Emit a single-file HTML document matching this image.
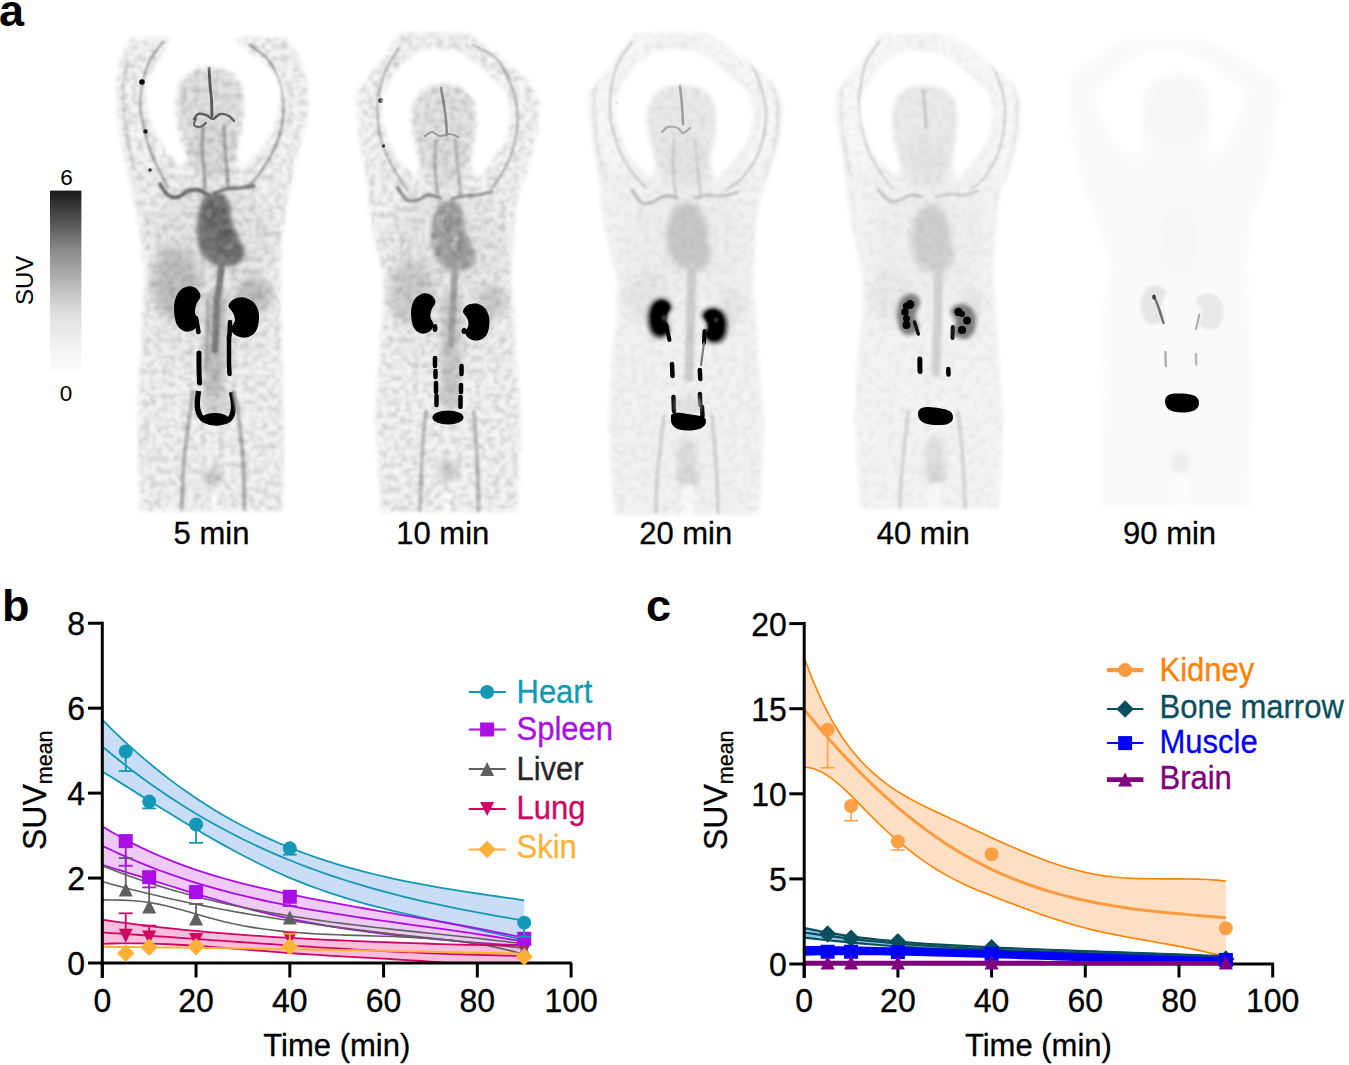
<!DOCTYPE html>
<html><head><meta charset="utf-8"><title>Figure</title>
<style>html,body{margin:0;padding:0;background:#fff;}svg{display:block;}</style></head>
<body><svg width="1349" height="1065" viewBox="0 0 1349 1065" font-family='"Liberation Sans", sans-serif'>
<rect width="1349" height="1065" fill="#fff"/>
<g id="chartb" font-family='"Liberation Sans", sans-serif'>
<path d="M102.30,719.64 L111.68,729.07 L121.05,738.12 L130.43,746.81 L139.80,755.15 L149.18,763.15 L158.56,770.80 L167.93,778.13 L177.31,785.15 L186.68,791.85 L196.06,798.25 L205.44,804.36 L214.81,810.19 L224.19,815.74 L233.56,821.02 L242.94,826.05 L252.32,830.82 L261.69,835.36 L271.07,839.67 L280.44,843.75 L289.82,847.62 L299.20,851.29 L308.57,854.75 L317.95,858.03 L327.32,861.13 L336.70,864.06 L346.08,866.83 L355.45,869.45 L364.83,871.92 L374.20,874.25 L383.58,876.46 L392.96,878.55 L402.33,880.53 L411.71,882.41 L421.08,884.20 L430.46,885.91 L439.84,887.54 L449.21,889.10 L458.59,890.61 L467.96,892.07 L477.34,893.49 L486.72,894.87 L496.09,896.24 L505.47,897.59 L514.84,898.94 L524.22,900.29 L524.22,940.26 L514.84,937.96 L505.47,935.75 L496.09,933.60 L486.72,931.51 L477.34,929.46 L467.96,927.43 L458.59,925.43 L449.21,923.43 L439.84,921.42 L430.46,919.39 L421.08,917.33 L411.71,915.22 L402.33,913.05 L392.96,910.81 L383.58,908.48 L374.20,906.06 L364.83,903.53 L355.45,900.88 L346.08,898.09 L336.70,895.15 L327.32,892.05 L317.95,888.78 L308.57,885.33 L299.20,881.68 L289.82,877.81 L280.44,873.73 L271.07,869.45 L261.69,864.97 L252.32,860.31 L242.94,855.48 L233.56,850.50 L224.19,845.38 L214.81,840.12 L205.44,834.75 L196.06,829.27 L186.68,823.70 L177.31,818.05 L167.93,812.33 L158.56,806.55 L149.18,800.73 L139.80,794.88 L130.43,789.01 L121.05,783.13 L111.68,777.26 L102.30,771.41 Z" fill="#c9ddf6"/>
<path d="M102.30,826.39 L111.68,831.97 L121.05,837.24 L130.43,842.21 L139.80,846.90 L149.18,851.32 L158.56,855.47 L167.93,859.39 L177.31,863.07 L186.68,866.54 L196.06,869.81 L205.44,872.88 L214.81,875.78 L224.19,878.51 L233.56,881.10 L242.94,883.55 L252.32,885.88 L261.69,888.10 L271.07,890.23 L280.44,892.27 L289.82,894.25 L299.20,896.17 L308.57,898.05 L317.95,899.87 L327.32,901.66 L336.70,903.41 L346.08,905.13 L355.45,906.82 L364.83,908.49 L374.20,910.14 L383.58,911.78 L392.96,913.40 L402.33,915.03 L411.71,916.65 L421.08,918.28 L430.46,919.92 L439.84,921.57 L449.21,923.24 L458.59,924.94 L467.96,926.66 L477.34,928.41 L486.72,930.20 L496.09,932.03 L505.47,933.90 L514.84,935.83 L524.22,937.81 L524.22,945.28 L514.84,944.98 L505.47,944.58 L496.09,944.07 L486.72,943.48 L477.34,942.81 L467.96,942.07 L458.59,941.28 L449.21,940.45 L439.84,939.58 L430.46,938.70 L421.08,937.78 L411.71,936.84 L402.33,935.85 L392.96,934.82 L383.58,933.74 L374.20,932.61 L364.83,931.40 L355.45,930.13 L346.08,928.78 L336.70,927.34 L327.32,925.82 L317.95,924.20 L308.57,922.48 L299.20,920.65 L289.82,918.70 L280.44,916.63 L271.07,914.45 L261.69,912.17 L252.32,909.79 L242.94,907.31 L233.56,904.76 L224.19,902.13 L214.81,899.44 L205.44,896.68 L196.06,893.88 L186.68,891.04 L177.31,888.16 L167.93,885.26 L158.56,882.33 L149.18,879.40 L139.80,876.47 L130.43,873.54 L121.05,870.63 L111.68,867.74 L102.30,864.87 Z" fill="#efcaf7"/>
<path d="M102.30,919.75 L111.68,921.11 L121.05,922.42 L130.43,923.66 L139.80,924.86 L149.18,926.00 L158.56,927.09 L167.93,928.13 L177.31,929.12 L186.68,930.07 L196.06,930.97 L205.44,931.83 L214.81,932.65 L224.19,933.43 L233.56,934.17 L242.94,934.87 L252.32,935.54 L261.69,936.18 L271.07,936.78 L280.44,937.36 L289.82,937.91 L299.20,938.43 L308.57,938.92 L317.95,939.39 L327.32,939.84 L336.70,940.27 L346.08,940.68 L355.45,941.07 L364.83,941.45 L374.20,941.81 L383.58,942.16 L392.96,942.50 L402.33,942.84 L411.71,943.16 L421.08,943.47 L430.46,943.77 L439.84,944.05 L449.21,944.31 L458.59,944.55 L467.96,944.76 L477.34,944.94 L486.72,945.09 L496.09,945.20 L505.47,945.28 L514.84,945.31 L524.22,945.30 L524.22,963.00 L514.84,963.00 L505.47,963.00 L496.09,963.00 L486.72,963.00 L477.34,963.00 L467.96,963.00 L458.59,963.00 L449.21,963.00 L439.84,962.34 L430.46,961.65 L421.08,961.01 L411.71,960.39 L402.33,959.81 L392.96,959.25 L383.58,958.70 L374.20,958.18 L364.83,957.65 L355.45,957.13 L346.08,956.61 L336.70,956.08 L327.32,955.54 L317.95,954.97 L308.57,954.38 L299.20,953.76 L289.82,953.11 L280.44,952.42 L271.07,951.69 L261.69,950.94 L252.32,950.18 L242.94,949.42 L233.56,948.66 L224.19,947.91 L214.81,947.19 L205.44,946.50 L196.06,945.86 L186.68,945.26 L177.31,944.73 L167.93,944.27 L158.56,943.88 L149.18,943.59 L139.80,943.40 L130.43,943.31 L121.05,943.34 L111.68,943.49 L102.30,943.78 Z" fill="#fbbddc"/>
<path d="M102.30,719.64 L111.68,729.07 L121.05,738.12 L130.43,746.81 L139.80,755.15 L149.18,763.15 L158.56,770.80 L167.93,778.13 L177.31,785.15 L186.68,791.85 L196.06,798.25 L205.44,804.36 L214.81,810.19 L224.19,815.74 L233.56,821.02 L242.94,826.05 L252.32,830.82 L261.69,835.36 L271.07,839.67 L280.44,843.75 L289.82,847.62 L299.20,851.29 L308.57,854.75 L317.95,858.03 L327.32,861.13 L336.70,864.06 L346.08,866.83 L355.45,869.45 L364.83,871.92 L374.20,874.25 L383.58,876.46 L392.96,878.55 L402.33,880.53 L411.71,882.41 L421.08,884.20 L430.46,885.91 L439.84,887.54 L449.21,889.10 L458.59,890.61 L467.96,892.07 L477.34,893.49 L486.72,894.87 L496.09,896.24 L505.47,897.59 L514.84,898.94 L524.22,900.29" fill="none" stroke="#1399b5" stroke-width="1.8"/>
<path d="M102.30,771.41 L111.68,777.26 L121.05,783.13 L130.43,789.01 L139.80,794.88 L149.18,800.73 L158.56,806.55 L167.93,812.33 L177.31,818.05 L186.68,823.70 L196.06,829.27 L205.44,834.75 L214.81,840.12 L224.19,845.38 L233.56,850.50 L242.94,855.48 L252.32,860.31 L261.69,864.97 L271.07,869.45 L280.44,873.73 L289.82,877.81 L299.20,881.68 L308.57,885.33 L317.95,888.78 L327.32,892.05 L336.70,895.15 L346.08,898.09 L355.45,900.88 L364.83,903.53 L374.20,906.06 L383.58,908.48 L392.96,910.81 L402.33,913.05 L411.71,915.22 L421.08,917.33 L430.46,919.39 L439.84,921.42 L449.21,923.43 L458.59,925.43 L467.96,927.43 L477.34,929.46 L486.72,931.51 L496.09,933.60 L505.47,935.75 L514.84,937.96 L524.22,940.26" fill="none" stroke="#1399b5" stroke-width="1.8"/>
<path d="M102.30,746.49 L111.68,754.28 L121.05,761.82 L130.43,769.12 L139.80,776.17 L149.18,782.98 L158.56,789.56 L167.93,795.92 L177.31,802.05 L186.68,807.97 L196.06,813.67 L205.44,819.17 L214.81,824.47 L224.19,829.58 L233.56,834.49 L242.94,839.22 L252.32,843.77 L261.69,848.14 L271.07,852.34 L280.44,856.38 L289.82,860.26 L299.20,863.99 L308.57,867.56 L317.95,871.00 L327.32,874.29 L336.70,877.45 L346.08,880.49 L355.45,883.40 L364.83,886.19 L374.20,888.87 L383.58,891.44 L392.96,893.91 L402.33,896.28 L411.71,898.56 L421.08,900.76 L430.46,902.87 L439.84,904.91 L449.21,906.87 L458.59,908.77 L467.96,910.61 L477.34,912.39 L486.72,914.12 L496.09,915.81 L505.47,917.46 L514.84,919.07 L524.22,920.65" fill="none" stroke="#1399b5" stroke-width="1.8"/>
<path d="M102.30,826.39 L111.68,831.97 L121.05,837.24 L130.43,842.21 L139.80,846.90 L149.18,851.32 L158.56,855.47 L167.93,859.39 L177.31,863.07 L186.68,866.54 L196.06,869.81 L205.44,872.88 L214.81,875.78 L224.19,878.51 L233.56,881.10 L242.94,883.55 L252.32,885.88 L261.69,888.10 L271.07,890.23 L280.44,892.27 L289.82,894.25 L299.20,896.17 L308.57,898.05 L317.95,899.87 L327.32,901.66 L336.70,903.41 L346.08,905.13 L355.45,906.82 L364.83,908.49 L374.20,910.14 L383.58,911.78 L392.96,913.40 L402.33,915.03 L411.71,916.65 L421.08,918.28 L430.46,919.92 L439.84,921.57 L449.21,923.24 L458.59,924.94 L467.96,926.66 L477.34,928.41 L486.72,930.20 L496.09,932.03 L505.47,933.90 L514.84,935.83 L524.22,937.81" fill="none" stroke="#aa0de6" stroke-width="1.8"/>
<path d="M102.30,864.87 L111.68,867.74 L121.05,870.63 L130.43,873.54 L139.80,876.47 L149.18,879.40 L158.56,882.33 L167.93,885.26 L177.31,888.16 L186.68,891.04 L196.06,893.88 L205.44,896.68 L214.81,899.44 L224.19,902.13 L233.56,904.76 L242.94,907.31 L252.32,909.79 L261.69,912.17 L271.07,914.45 L280.44,916.63 L289.82,918.70 L299.20,920.65 L308.57,922.48 L317.95,924.20 L327.32,925.82 L336.70,927.34 L346.08,928.78 L355.45,930.13 L364.83,931.40 L374.20,932.61 L383.58,933.74 L392.96,934.82 L402.33,935.85 L411.71,936.84 L421.08,937.78 L430.46,938.70 L439.84,939.58 L449.21,940.45 L458.59,941.28 L467.96,942.07 L477.34,942.81 L486.72,943.48 L496.09,944.07 L505.47,944.58 L514.84,944.98 L524.22,945.28" fill="none" stroke="#aa0de6" stroke-width="1.8"/>
<path d="M102.30,845.82 L111.68,850.31 L121.05,854.61 L130.43,858.72 L139.80,862.65 L149.18,866.41 L158.56,870.00 L167.93,873.42 L177.31,876.69 L186.68,879.80 L196.06,882.77 L205.44,885.60 L214.81,888.30 L224.19,890.87 L233.56,893.32 L242.94,895.66 L252.32,897.88 L261.69,900.00 L271.07,902.03 L280.44,903.96 L289.82,905.81 L299.20,907.58 L308.57,909.27 L317.95,910.90 L327.32,912.46 L336.70,913.98 L346.08,915.44 L355.45,916.86 L364.83,918.24 L374.20,919.59 L383.58,920.91 L392.96,922.21 L402.33,923.51 L411.71,924.79 L421.08,926.07 L430.46,927.36 L439.84,928.66 L449.21,929.97 L458.59,931.31 L467.96,932.67 L477.34,934.07 L486.72,935.51 L496.09,937.00 L505.47,938.53 L514.84,940.13 L524.22,941.79" fill="none" stroke="#aa0de6" stroke-width="1.8"/>
<path d="M102.30,865.67 L111.68,869.42 L121.05,873.01 L130.43,876.44 L139.80,879.73 L149.18,882.87 L158.56,885.88 L167.93,888.75 L177.31,891.49 L186.68,894.10 L196.06,896.60 L205.44,898.98 L214.81,901.25 L224.19,903.41 L233.56,905.46 L242.94,907.43 L252.32,909.29 L261.69,911.07 L271.07,912.77 L280.44,914.39 L289.82,915.93 L299.20,917.40 L308.57,918.81 L317.95,920.16 L327.32,921.45 L336.70,922.69 L346.08,923.89 L355.45,925.04 L364.83,926.16 L374.20,927.24 L383.58,928.30 L392.96,929.33 L402.33,930.34 L411.71,931.34 L421.08,932.33 L430.46,933.31 L439.84,934.29 L449.21,935.28 L458.59,936.28 L467.96,937.29 L477.34,938.32 L486.72,939.37 L496.09,940.45 L505.47,941.56 L514.84,942.71 L524.22,943.90" fill="none" stroke="#606060" stroke-width="1.6"/>
<path d="M102.30,899.89 L111.68,899.95 L121.05,900.14 L130.43,900.55 L139.80,901.30 L149.18,902.47 L158.56,904.15 L167.93,906.24 L177.31,908.65 L186.68,911.27 L196.06,914.00 L205.44,916.71 L214.81,919.32 L224.19,921.70 L233.56,923.83 L242.94,925.71 L252.32,927.36 L261.69,928.80 L271.07,930.04 L280.44,931.11 L289.82,932.01 L299.20,932.78 L308.57,933.42 L317.95,933.96 L327.32,934.41 L336.70,934.78 L346.08,935.11 L355.45,935.39 L364.83,935.66 L374.20,935.93 L383.58,936.22 L392.96,936.54 L402.33,936.91 L411.71,937.35 L421.08,937.88 L430.46,938.52 L439.84,939.27 L449.21,940.17 L458.59,941.23 L467.96,942.46 L477.34,943.88 L486.72,945.51 L496.09,947.37 L505.47,949.48 L514.84,951.85 L524.22,954.50" fill="none" stroke="#606060" stroke-width="1.6"/>
<path d="M102.30,881.54 L111.68,884.16 L121.05,886.70 L130.43,889.15 L139.80,891.52 L149.18,893.82 L158.56,896.05 L167.93,898.20 L177.31,900.28 L186.68,902.30 L196.06,904.25 L205.44,906.13 L214.81,907.96 L224.19,909.72 L233.56,911.43 L242.94,913.09 L252.32,914.69 L261.69,916.24 L271.07,917.75 L280.44,919.20 L289.82,920.62 L299.20,921.99 L308.57,923.33 L317.95,924.62 L327.32,925.88 L336.70,927.11 L346.08,928.31 L355.45,929.48 L364.83,930.62 L374.20,931.74 L383.58,932.84 L392.96,933.92 L402.33,934.97 L411.71,936.02 L421.08,937.05 L430.46,938.07 L439.84,939.08 L449.21,940.08 L458.59,941.08 L467.96,942.08 L477.34,943.08 L486.72,944.08 L496.09,945.08 L505.47,946.09 L514.84,947.11 L524.22,948.14" fill="none" stroke="#606060" stroke-width="1.6"/>
<path d="M102.30,919.75 L111.68,921.11 L121.05,922.42 L130.43,923.66 L139.80,924.86 L149.18,926.00 L158.56,927.09 L167.93,928.13 L177.31,929.12 L186.68,930.07 L196.06,930.97 L205.44,931.83 L214.81,932.65 L224.19,933.43 L233.56,934.17 L242.94,934.87 L252.32,935.54 L261.69,936.18 L271.07,936.78 L280.44,937.36 L289.82,937.91 L299.20,938.43 L308.57,938.92 L317.95,939.39 L327.32,939.84 L336.70,940.27 L346.08,940.68 L355.45,941.07 L364.83,941.45 L374.20,941.81 L383.58,942.16 L392.96,942.50 L402.33,942.84 L411.71,943.16 L421.08,943.47 L430.46,943.77 L439.84,944.05 L449.21,944.31 L458.59,944.55 L467.96,944.76 L477.34,944.94 L486.72,945.09 L496.09,945.20 L505.47,945.28 L514.84,945.31 L524.22,945.30" fill="none" stroke="#cf0463" stroke-width="1.8"/>
<path d="M102.30,943.78 L111.68,943.49 L121.05,943.34 L130.43,943.31 L139.80,943.40 L149.18,943.59 L158.56,943.88 L167.93,944.27 L177.31,944.73 L186.68,945.26 L196.06,945.86 L205.44,946.50 L214.81,947.19 L224.19,947.91 L233.56,948.66 L242.94,949.42 L252.32,950.18 L261.69,950.94 L271.07,951.69 L280.44,952.42 L289.82,953.11 L299.20,953.76 L308.57,954.38 L317.95,954.97 L327.32,955.54 L336.70,956.08 L346.08,956.61 L355.45,957.13 L364.83,957.65 L374.20,958.18 L383.58,958.70 L392.96,959.25 L402.33,959.81 L411.71,960.39 L421.08,961.01 L430.46,961.65 L439.84,962.34 L449.21,963.00 L458.59,963.00 L467.96,963.00 L477.34,963.00 L486.72,963.00 L496.09,963.00 L505.47,963.00 L514.84,963.00 L524.22,963.00" fill="none" stroke="#cf0463" stroke-width="1.8"/>
<path d="M102.30,932.41 L111.68,933.04 L121.05,933.68 L130.43,934.33 L139.80,934.98 L149.18,935.63 L158.56,936.29 L167.93,936.95 L177.31,937.62 L186.68,938.28 L196.06,938.95 L205.44,939.62 L214.81,940.28 L224.19,940.95 L233.56,941.61 L242.94,942.26 L252.32,942.91 L261.69,943.56 L271.07,944.20 L280.44,944.83 L289.82,945.46 L299.20,946.07 L308.57,946.68 L317.95,947.28 L327.32,947.86 L336.70,948.43 L346.08,948.99 L355.45,949.54 L364.83,950.07 L374.20,950.58 L383.58,951.08 L392.96,951.56 L402.33,952.02 L411.71,952.47 L421.08,952.89 L430.46,953.29 L439.84,953.67 L449.21,954.03 L458.59,954.37 L467.96,954.68 L477.34,954.96 L486.72,955.22 L496.09,955.46 L505.47,955.66 L514.84,955.84 L524.22,955.99" fill="none" stroke="#cf0463" stroke-width="1.8"/>
<path d="M102.30,946.86 L111.68,946.94 L121.05,947.02 L130.43,947.10 L139.80,947.19 L149.18,947.28 L158.56,947.38 L167.93,947.49 L177.31,947.60 L186.68,947.71 L196.06,947.83 L205.44,947.95 L214.81,948.07 L224.19,948.20 L233.56,948.33 L242.94,948.47 L252.32,948.61 L261.69,948.75 L271.07,948.90 L280.44,949.05 L289.82,949.20 L299.20,949.36 L308.57,949.51 L317.95,949.67 L327.32,949.84 L336.70,950.00 L346.08,950.17 L355.45,950.34 L364.83,950.52 L374.20,950.69 L383.58,950.87 L392.96,951.04 L402.33,951.22 L411.71,951.41 L421.08,951.59 L430.46,951.77 L439.84,951.96 L449.21,952.14 L458.59,952.33 L467.96,952.52 L477.34,952.71 L486.72,952.90 L496.09,953.09 L505.47,953.28 L514.84,953.47 L524.22,953.66" fill="none" stroke="#fdb237" stroke-width="2"/>
<line x1="102.3" y1="621.7" x2="102.3" y2="978" stroke="#000" stroke-width="3"/>
<line x1="100.8" y1="963.0" x2="571.7" y2="963.0" stroke="#000" stroke-width="3"/>
<line x1="88" y1="963.00" x2="102.3" y2="963.00" stroke="#000" stroke-width="3"/>
<text transform="translate(85.00,975.00) scale(1,1.06)" font-size="32" text-anchor="end" fill="#000" stroke="#000" stroke-width="0.3">0</text>
<line x1="88" y1="878.06" x2="102.3" y2="878.06" stroke="#000" stroke-width="3"/>
<text transform="translate(85.00,890.06) scale(1,1.06)" font-size="32" text-anchor="end" fill="#000" stroke="#000" stroke-width="0.3">2</text>
<line x1="88" y1="793.12" x2="102.3" y2="793.12" stroke="#000" stroke-width="3"/>
<text transform="translate(85.00,805.12) scale(1,1.06)" font-size="32" text-anchor="end" fill="#000" stroke="#000" stroke-width="0.3">4</text>
<line x1="88" y1="708.18" x2="102.3" y2="708.18" stroke="#000" stroke-width="3"/>
<text transform="translate(85.00,720.18) scale(1,1.06)" font-size="32" text-anchor="end" fill="#000" stroke="#000" stroke-width="0.3">6</text>
<line x1="88" y1="623.24" x2="102.3" y2="623.24" stroke="#000" stroke-width="3"/>
<text transform="translate(85.00,635.24) scale(1,1.06)" font-size="32" text-anchor="end" fill="#000" stroke="#000" stroke-width="0.3">8</text>
<line x1="102.30" y1="963.0" x2="102.30" y2="977.5" stroke="#000" stroke-width="3"/>
<text transform="translate(102.30,1011.80) scale(1,1.06)" font-size="32" text-anchor="middle" fill="#000" stroke="#000" stroke-width="0.3">0</text>
<line x1="196.06" y1="963.0" x2="196.06" y2="977.5" stroke="#000" stroke-width="3"/>
<text transform="translate(196.06,1011.80) scale(1,1.06)" font-size="32" text-anchor="middle" fill="#000" stroke="#000" stroke-width="0.3">20</text>
<line x1="289.82" y1="963.0" x2="289.82" y2="977.5" stroke="#000" stroke-width="3"/>
<text transform="translate(289.82,1011.80) scale(1,1.06)" font-size="32" text-anchor="middle" fill="#000" stroke="#000" stroke-width="0.3">40</text>
<line x1="383.58" y1="963.0" x2="383.58" y2="977.5" stroke="#000" stroke-width="3"/>
<text transform="translate(383.58,1011.80) scale(1,1.06)" font-size="32" text-anchor="middle" fill="#000" stroke="#000" stroke-width="0.3">60</text>
<line x1="477.34" y1="963.0" x2="477.34" y2="977.5" stroke="#000" stroke-width="3"/>
<text transform="translate(477.34,1011.80) scale(1,1.06)" font-size="32" text-anchor="middle" fill="#000" stroke="#000" stroke-width="0.3">80</text>
<line x1="571.10" y1="963.0" x2="571.10" y2="977.5" stroke="#000" stroke-width="3"/>
<text transform="translate(571.10,1011.80) scale(1,1.06)" font-size="32" text-anchor="middle" fill="#000" stroke="#000" stroke-width="0.3">100</text>
<text transform="translate(336.80,1056.00) scale(1,1.0)" font-size="31" text-anchor="middle" fill="#000" stroke="#000" stroke-width="0.3">Time (min)</text>
<text transform="translate(45.5,850) rotate(-90) scale(1,1.06)" font-size="32" stroke="#000" stroke-width="0.3">SUV<tspan font-size="21.5" dy="6" dx="0">mean</tspan></text>
<line x1="125.74" y1="935.82" x2="125.74" y2="913.31" stroke="#cf0463" stroke-width="1.8"/><line x1="118.74" y1="913.31" x2="132.74" y2="913.31" stroke="#cf0463" stroke-width="1.8"/>
<path d="M118.74,928.82 L132.74,928.82 L125.74,942.82 Z" fill="#cf0463"/>
<line x1="149.18" y1="937.52" x2="149.18" y2="925.63" stroke="#cf0463" stroke-width="1.8"/><line x1="142.18" y1="925.63" x2="156.18" y2="925.63" stroke="#cf0463" stroke-width="1.8"/>
<path d="M142.18,930.52 L156.18,930.52 L149.18,944.52 Z" fill="#cf0463"/>
<path d="M189.06,933.07 L203.06,933.07 L196.06,947.07 Z" fill="#cf0463"/>
<path d="M282.82,931.79 L296.82,931.79 L289.82,945.79 Z" fill="#cf0463"/>
<path d="M517.22,942.41 L531.22,942.41 L524.22,956.41 Z" fill="#cf0463"/>
<line x1="125.74" y1="889.53" x2="125.74" y2="858.10" stroke="#606060" stroke-width="1.8"/><line x1="118.74" y1="858.10" x2="132.74" y2="858.10" stroke="#606060" stroke-width="1.8"/>
<path d="M125.74,882.53 L132.74,896.53 L118.74,896.53 Z" fill="#606060"/>
<line x1="149.18" y1="906.51" x2="149.18" y2="878.06" stroke="#606060" stroke-width="1.8"/><line x1="142.18" y1="878.06" x2="156.18" y2="878.06" stroke="#606060" stroke-width="1.8"/>
<path d="M149.18,899.51 L156.18,913.51 L142.18,913.51 Z" fill="#606060"/>
<line x1="196.06" y1="918.41" x2="196.06" y2="903.97" stroke="#606060" stroke-width="1.8"/><line x1="189.06" y1="903.97" x2="203.06" y2="903.97" stroke="#606060" stroke-width="1.8"/>
<path d="M196.06,911.41 L203.06,925.41 L189.06,925.41 Z" fill="#606060"/>
<path d="M289.82,910.56 L296.82,924.56 L282.82,924.56 Z" fill="#606060"/>
<path d="M524.22,943.26 L531.22,957.26 L517.22,957.26 Z" fill="#606060"/>
<path d="M125.74,944.48 L134.49,953.23 L125.74,961.98 L116.99,953.23 Z" fill="#fdb237"/>
<path d="M149.18,938.54 L157.93,947.29 L149.18,956.04 L140.43,947.29 Z" fill="#fdb237"/>
<path d="M196.06,938.11 L204.81,946.86 L196.06,955.61 L187.31,946.86 Z" fill="#fdb237"/>
<line x1="289.82" y1="946.86" x2="289.82" y2="933.70" stroke="#fdb237" stroke-width="1.8"/><line x1="282.82" y1="933.70" x2="296.82" y2="933.70" stroke="#fdb237" stroke-width="1.8"/>
<path d="M289.82,938.11 L298.57,946.86 L289.82,955.61 L281.07,946.86 Z" fill="#fdb237"/>
<path d="M524.22,947.88 L532.97,956.63 L524.22,965.38 L515.47,956.63 Z" fill="#fdb237"/>
<line x1="125.74" y1="841.11" x2="125.74" y2="865.74" stroke="#aa0de6" stroke-width="1.8"/><line x1="118.74" y1="865.74" x2="132.74" y2="865.74" stroke="#aa0de6" stroke-width="1.8"/>
<rect x="118.74" y="834.11" width="14.00" height="14.00" fill="#aa0de6"/>
<line x1="149.18" y1="877.21" x2="149.18" y2="887.40" stroke="#aa0de6" stroke-width="1.8"/><line x1="142.18" y1="887.40" x2="156.18" y2="887.40" stroke="#aa0de6" stroke-width="1.8"/>
<rect x="142.18" y="870.21" width="14.00" height="14.00" fill="#aa0de6"/>
<rect x="189.06" y="885.08" width="14.00" height="14.00" fill="#aa0de6"/>
<line x1="289.82" y1="896.75" x2="289.82" y2="906.09" stroke="#aa0de6" stroke-width="1.8"/><line x1="282.82" y1="906.09" x2="296.82" y2="906.09" stroke="#aa0de6" stroke-width="1.8"/>
<rect x="282.82" y="889.75" width="14.00" height="14.00" fill="#aa0de6"/>
<rect x="517.22" y="931.79" width="14.00" height="14.00" fill="#aa0de6"/>
<line x1="125.74" y1="751.50" x2="125.74" y2="771.04" stroke="#1399b5" stroke-width="1.8"/><line x1="118.74" y1="771.04" x2="132.74" y2="771.04" stroke="#1399b5" stroke-width="1.8"/>
<circle cx="125.74" cy="751.50" r="7.00" fill="#1399b5"/>
<line x1="149.18" y1="801.61" x2="149.18" y2="808.41" stroke="#1399b5" stroke-width="1.8"/><line x1="142.18" y1="808.41" x2="156.18" y2="808.41" stroke="#1399b5" stroke-width="1.8"/>
<circle cx="149.18" cy="801.61" r="7.00" fill="#1399b5"/>
<line x1="196.06" y1="824.55" x2="196.06" y2="842.81" stroke="#1399b5" stroke-width="1.8"/><line x1="189.06" y1="842.81" x2="203.06" y2="842.81" stroke="#1399b5" stroke-width="1.8"/>
<circle cx="196.06" cy="824.55" r="7.00" fill="#1399b5"/>
<line x1="289.82" y1="848.33" x2="289.82" y2="854.70" stroke="#1399b5" stroke-width="1.8"/><line x1="282.82" y1="854.70" x2="296.82" y2="854.70" stroke="#1399b5" stroke-width="1.8"/>
<circle cx="289.82" cy="848.33" r="7.00" fill="#1399b5"/>
<line x1="524.22" y1="922.65" x2="524.22" y2="936.67" stroke="#1399b5" stroke-width="1.8"/><line x1="517.22" y1="936.67" x2="531.22" y2="936.67" stroke="#1399b5" stroke-width="1.8"/>
<circle cx="524.22" cy="922.65" r="7.00" fill="#1399b5"/>
<line x1="468.8" y1="692" x2="505.9" y2="692" stroke="#1399b5" stroke-width="2"/>
<circle cx="487.10" cy="692.00" r="7.00" fill="#1399b5"/>
<text transform="translate(516.50,702.90) scale(1,1.06)" font-size="31" text-anchor="start" fill="#1399b5" stroke="#1399b5" stroke-width="0.3">Heart</text>
<line x1="468.8" y1="729.5" x2="505.9" y2="729.5" stroke="#aa0de6" stroke-width="2"/>
<rect x="480.10" y="722.50" width="14.00" height="14.00" fill="#aa0de6"/>
<text transform="translate(516.50,740.30) scale(1,1.06)" font-size="31" text-anchor="start" fill="#aa0de6" stroke="#aa0de6" stroke-width="0.3">Spleen</text>
<line x1="468.8" y1="769" x2="505.9" y2="769" stroke="#606060" stroke-width="2"/>
<path d="M487.10,762.00 L494.10,776.00 L480.10,776.00 Z" fill="#606060"/>
<text transform="translate(516.50,779.80) scale(1,1.06)" font-size="31" text-anchor="start" fill="#262626" stroke="#262626" stroke-width="0.3">Liver</text>
<line x1="468.8" y1="809" x2="505.9" y2="809" stroke="#cf0463" stroke-width="2"/>
<path d="M480.10,802.00 L494.10,802.00 L487.10,816.00 Z" fill="#cf0463"/>
<text transform="translate(516.50,818.80) scale(1,1.06)" font-size="31" text-anchor="start" fill="#cf0463" stroke="#cf0463" stroke-width="0.3">Lung</text>
<line x1="468.8" y1="849.5" x2="505.9" y2="849.5" stroke="#fdb237" stroke-width="2"/>
<path d="M487.10,840.75 L495.85,849.50 L487.10,858.25 L478.35,849.50 Z" fill="#fdb237"/>
<text transform="translate(516.50,857.90) scale(1,1.06)" font-size="31" text-anchor="start" fill="#fdb237" stroke="#fdb237" stroke-width="0.3">Skin</text>
</g>
<g id="chartc" font-family='"Liberation Sans", sans-serif'>
<path d="M804.20,657.69 L813.57,682.18 L822.94,703.24 L832.31,721.23 L841.68,736.53 L851.05,749.51 L860.42,760.52 L869.79,769.94 L879.16,778.12 L888.53,785.31 L897.90,791.64 L907.27,797.28 L916.64,802.36 L926.01,807.03 L935.38,811.45 L944.75,815.77 L954.12,820.11 L963.49,824.50 L972.86,828.91 L982.23,833.31 L991.60,837.66 L1000.97,841.95 L1010.34,846.13 L1019.71,850.19 L1029.08,854.08 L1038.45,857.78 L1047.82,861.26 L1057.19,864.49 L1066.56,867.44 L1075.93,870.08 L1085.30,872.39 L1094.67,874.32 L1104.04,875.85 L1113.41,876.99 L1122.78,877.80 L1132.15,878.34 L1141.52,878.66 L1150.89,878.81 L1160.26,878.86 L1169.63,878.86 L1179.00,878.88 L1188.37,878.96 L1197.74,879.16 L1207.11,879.55 L1216.48,880.17 L1225.85,881.10 L1225.85,956.88 L1216.48,954.45 L1207.11,952.21 L1197.74,950.14 L1188.37,948.21 L1179.00,946.39 L1169.63,944.66 L1160.26,942.97 L1150.89,941.32 L1141.52,939.66 L1132.15,937.97 L1122.78,936.22 L1113.41,934.39 L1104.04,932.44 L1094.67,930.35 L1085.30,928.07 L1075.93,925.55 L1066.56,922.80 L1057.19,919.86 L1047.82,916.74 L1038.45,913.47 L1029.08,910.08 L1019.71,906.60 L1010.34,903.05 L1000.97,899.45 L991.60,895.82 L982.23,892.10 L972.86,888.18 L963.49,883.98 L954.12,879.40 L944.75,874.34 L935.38,868.74 L926.01,862.60 L916.64,855.93 L907.27,848.72 L897.90,840.99 L888.53,832.74 L879.16,823.99 L869.79,814.73 L860.42,805.15 L851.05,795.67 L841.68,786.75 L832.31,778.89 L822.94,772.63 L813.57,768.50 L804.20,767.04 Z" fill="#fde0c3"/>
<path d="M804.20,657.69 L813.57,682.18 L822.94,703.24 L832.31,721.23 L841.68,736.53 L851.05,749.51 L860.42,760.52 L869.79,769.94 L879.16,778.12 L888.53,785.31 L897.90,791.64 L907.27,797.28 L916.64,802.36 L926.01,807.03 L935.38,811.45 L944.75,815.77 L954.12,820.11 L963.49,824.50 L972.86,828.91 L982.23,833.31 L991.60,837.66 L1000.97,841.95 L1010.34,846.13 L1019.71,850.19 L1029.08,854.08 L1038.45,857.78 L1047.82,861.26 L1057.19,864.49 L1066.56,867.44 L1075.93,870.08 L1085.30,872.39 L1094.67,874.32 L1104.04,875.85 L1113.41,876.99 L1122.78,877.80 L1132.15,878.34 L1141.52,878.66 L1150.89,878.81 L1160.26,878.86 L1169.63,878.86 L1179.00,878.88 L1188.37,878.96 L1197.74,879.16 L1207.11,879.55 L1216.48,880.17 L1225.85,881.10" fill="none" stroke="#ff8000" stroke-width="1.6"/>
<path d="M804.20,767.04 L813.57,768.50 L822.94,772.63 L832.31,778.89 L841.68,786.75 L851.05,795.67 L860.42,805.15 L869.79,814.73 L879.16,823.99 L888.53,832.74 L897.90,840.99 L907.27,848.72 L916.64,855.93 L926.01,862.60 L935.38,868.74 L944.75,874.34 L954.12,879.40 L963.49,883.98 L972.86,888.18 L982.23,892.10 L991.60,895.82 L1000.97,899.45 L1010.34,903.05 L1019.71,906.60 L1029.08,910.08 L1038.45,913.47 L1047.82,916.74 L1057.19,919.86 L1066.56,922.80 L1075.93,925.55 L1085.30,928.07 L1094.67,930.35 L1104.04,932.44 L1113.41,934.39 L1122.78,936.22 L1132.15,937.97 L1141.52,939.66 L1150.89,941.32 L1160.26,942.97 L1169.63,944.66 L1179.00,946.39 L1188.37,948.21 L1197.74,950.14 L1207.11,952.21 L1216.48,954.45 L1225.85,956.88" fill="none" stroke="#ff8000" stroke-width="1.6"/>
<path d="M804.20,709.64 L813.57,721.05 L822.94,732.10 L832.31,742.80 L841.68,753.14 L851.05,763.11 L860.42,772.73 L869.79,781.98 L879.16,790.87 L888.53,799.40 L897.90,807.57 L907.27,815.37 L916.64,822.80 L926.01,829.87 L935.38,836.57 L944.75,842.90 L954.12,848.87 L963.49,854.48 L972.86,859.74 L982.23,864.67 L991.60,869.28 L1000.97,873.59 L1010.34,877.59 L1019.71,881.32 L1029.08,884.78 L1038.45,887.98 L1047.82,890.93 L1057.19,893.66 L1066.56,896.16 L1075.93,898.46 L1085.30,900.57 L1094.67,902.50 L1104.04,904.26 L1113.41,905.86 L1122.78,907.32 L1132.15,908.65 L1141.52,909.87 L1150.89,910.98 L1160.26,912.00 L1169.63,912.94 L1179.00,913.81 L1188.37,914.63 L1197.74,915.41 L1207.11,916.16 L1216.48,916.90 L1225.85,917.63" fill="none" stroke="#fd9a3e" stroke-width="3"/>
<line x1="802.7" y1="964.0" x2="1274" y2="964.0" stroke="#000" stroke-width="3"/>
<path d="M804.20,927.98 L813.57,929.93 L822.94,931.72 L832.31,933.37 L841.68,934.88 L851.05,936.26 L860.42,937.53 L869.79,938.68 L879.16,939.73 L888.53,940.69 L897.90,941.56 L907.27,942.35 L916.64,943.08 L926.01,943.74 L935.38,944.35 L944.75,944.92 L954.12,945.46 L963.49,945.96 L972.86,946.45 L982.23,946.91 L991.60,947.36 L1000.97,947.79 L1010.34,948.21 L1019.71,948.61 L1029.08,949.00 L1038.45,949.37 L1047.82,949.74 L1057.19,950.09 L1066.56,950.44 L1075.93,950.78 L1085.30,951.12 L1094.67,951.45 L1104.04,951.78 L1113.41,952.10 L1122.78,952.43 L1132.15,952.76 L1141.52,953.09 L1150.89,953.42 L1160.26,953.76 L1169.63,954.10 L1179.00,954.45 L1188.37,954.81 L1197.74,955.18 L1207.11,955.57 L1216.48,955.96 L1225.85,956.37 L1225.85,958.87 L1216.48,958.46 L1207.11,958.08 L1197.74,957.72 L1188.37,957.38 L1179.00,957.05 L1169.63,956.74 L1160.26,956.45 L1150.89,956.16 L1141.52,955.89 L1132.15,955.62 L1122.78,955.36 L1113.41,955.11 L1104.04,954.86 L1094.67,954.61 L1085.30,954.36 L1075.93,954.11 L1066.56,953.85 L1057.19,953.59 L1047.82,953.32 L1038.45,953.04 L1029.08,952.74 L1019.71,952.44 L1010.34,952.12 L1000.97,951.78 L991.60,951.42 L982.23,951.04 L972.86,950.65 L963.49,950.22 L954.12,949.77 L944.75,949.29 L935.38,948.79 L926.01,948.25 L916.64,947.68 L907.27,947.07 L897.90,946.42 L888.53,945.74 L879.16,945.02 L869.79,944.25 L860.42,943.44 L851.05,942.59 L841.68,941.68 L832.31,940.73 L822.94,939.73 L813.57,938.67 L804.20,937.56 Z" fill="#8fc3e0"/>
<path d="M804.20,927.98 L813.57,929.93 L822.94,931.72 L832.31,933.37 L841.68,934.88 L851.05,936.26 L860.42,937.53 L869.79,938.68 L879.16,939.73 L888.53,940.69 L897.90,941.56 L907.27,942.35 L916.64,943.08 L926.01,943.74 L935.38,944.35 L944.75,944.92 L954.12,945.46 L963.49,945.96 L972.86,946.45 L982.23,946.91 L991.60,947.36 L1000.97,947.79 L1010.34,948.21 L1019.71,948.61 L1029.08,949.00 L1038.45,949.37 L1047.82,949.74 L1057.19,950.09 L1066.56,950.44 L1075.93,950.78 L1085.30,951.12 L1094.67,951.45 L1104.04,951.78 L1113.41,952.10 L1122.78,952.43 L1132.15,952.76 L1141.52,953.09 L1150.89,953.42 L1160.26,953.76 L1169.63,954.10 L1179.00,954.45 L1188.37,954.81 L1197.74,955.18 L1207.11,955.57 L1216.48,955.96 L1225.85,956.37" fill="none" stroke="#0b4f5f" stroke-width="2.2"/>
<path d="M804.20,937.56 L813.57,938.67 L822.94,939.73 L832.31,940.73 L841.68,941.68 L851.05,942.59 L860.42,943.44 L869.79,944.25 L879.16,945.02 L888.53,945.74 L897.90,946.42 L907.27,947.07 L916.64,947.68 L926.01,948.25 L935.38,948.79 L944.75,949.29 L954.12,949.77 L963.49,950.22 L972.86,950.65 L982.23,951.04 L991.60,951.42 L1000.97,951.78 L1010.34,952.12 L1019.71,952.44 L1029.08,952.74 L1038.45,953.04 L1047.82,953.32 L1057.19,953.59 L1066.56,953.85 L1075.93,954.11 L1085.30,954.36 L1094.67,954.61 L1104.04,954.86 L1113.41,955.11 L1122.78,955.36 L1132.15,955.62 L1141.52,955.89 L1150.89,956.16 L1160.26,956.45 L1169.63,956.74 L1179.00,957.05 L1188.37,957.38 L1197.74,957.72 L1207.11,958.08 L1216.48,958.46 L1225.85,958.87" fill="none" stroke="#0b4f5f" stroke-width="2.2"/>
<path d="M804.20,932.53 L813.57,933.91 L822.94,935.22 L832.31,936.46 L841.68,937.64 L851.05,938.76 L860.42,939.82 L869.79,940.81 L879.16,941.76 L888.53,942.65 L897.90,943.49 L907.27,944.28 L916.64,945.02 L926.01,945.72 L935.38,946.37 L944.75,946.99 L954.12,947.57 L963.49,948.11 L972.86,948.62 L982.23,949.10 L991.60,949.55 L1000.97,949.98 L1010.34,950.38 L1019.71,950.76 L1029.08,951.12 L1038.45,951.46 L1047.82,951.78 L1057.19,952.09 L1066.56,952.40 L1075.93,952.69 L1085.30,952.98 L1094.67,953.26 L1104.04,953.54 L1113.41,953.82 L1122.78,954.11 L1132.15,954.40 L1141.52,954.69 L1150.89,955.00 L1160.26,955.32 L1169.63,955.65 L1179.00,955.99 L1188.37,956.36 L1197.74,956.75 L1207.11,957.15 L1216.48,957.59 L1225.85,958.05" fill="none" stroke="#0b4f5f" stroke-width="2.2"/>
<path d="M804.20,946.98 L813.57,947.04 L822.94,947.12 L832.31,947.22 L841.68,947.33 L851.05,947.47 L860.42,947.62 L869.79,947.78 L879.16,947.97 L888.53,948.16 L897.90,948.37 L907.27,948.59 L916.64,948.83 L926.01,949.07 L935.38,949.32 L944.75,949.59 L954.12,949.86 L963.49,950.14 L972.86,950.43 L982.23,950.73 L991.60,951.03 L1000.97,951.33 L1010.34,951.64 L1019.71,951.95 L1029.08,952.27 L1038.45,952.58 L1047.82,952.90 L1057.19,953.22 L1066.56,953.53 L1075.93,953.85 L1085.30,954.16 L1094.67,954.47 L1104.04,954.78 L1113.41,955.08 L1122.78,955.37 L1132.15,955.66 L1141.52,955.94 L1150.89,956.22 L1160.26,956.49 L1169.63,956.74 L1179.00,956.99 L1188.37,957.23 L1197.74,957.45 L1207.11,957.66 L1216.48,957.86 L1225.85,958.04 L1225.85,961.11 L1216.48,961.30 L1207.11,961.45 L1197.74,961.56 L1188.37,961.62 L1179.00,961.65 L1169.63,961.63 L1160.26,961.59 L1150.89,961.51 L1141.52,961.40 L1132.15,961.26 L1122.78,961.10 L1113.41,960.91 L1104.04,960.70 L1094.67,960.47 L1085.30,960.22 L1075.93,959.95 L1066.56,959.67 L1057.19,959.38 L1047.82,959.08 L1038.45,958.77 L1029.08,958.46 L1019.71,958.14 L1010.34,957.82 L1000.97,957.50 L991.60,957.18 L982.23,956.87 L972.86,956.57 L963.49,956.27 L954.12,955.99 L944.75,955.72 L935.38,955.46 L926.01,955.22 L916.64,955.00 L907.27,954.80 L897.90,954.63 L888.53,954.48 L879.16,954.36 L869.79,954.27 L860.42,954.21 L851.05,954.18 L841.68,954.19 L832.31,954.24 L822.94,954.33 L813.57,954.46 L804.20,954.64 Z" fill="#0000ff"/>
<path d="M804.20,946.98 L813.57,947.04 L822.94,947.12 L832.31,947.22 L841.68,947.33 L851.05,947.47 L860.42,947.62 L869.79,947.78 L879.16,947.97 L888.53,948.16 L897.90,948.37 L907.27,948.59 L916.64,948.83 L926.01,949.07 L935.38,949.32 L944.75,949.59 L954.12,949.86 L963.49,950.14 L972.86,950.43 L982.23,950.73 L991.60,951.03 L1000.97,951.33 L1010.34,951.64 L1019.71,951.95 L1029.08,952.27 L1038.45,952.58 L1047.82,952.90 L1057.19,953.22 L1066.56,953.53 L1075.93,953.85 L1085.30,954.16 L1094.67,954.47 L1104.04,954.78 L1113.41,955.08 L1122.78,955.37 L1132.15,955.66 L1141.52,955.94 L1150.89,956.22 L1160.26,956.49 L1169.63,956.74 L1179.00,956.99 L1188.37,957.23 L1197.74,957.45 L1207.11,957.66 L1216.48,957.86 L1225.85,958.04" fill="none" stroke="#0000ff" stroke-width="2"/>
<path d="M804.20,954.64 L813.57,954.46 L822.94,954.33 L832.31,954.24 L841.68,954.19 L851.05,954.18 L860.42,954.21 L869.79,954.27 L879.16,954.36 L888.53,954.48 L897.90,954.63 L907.27,954.80 L916.64,955.00 L926.01,955.22 L935.38,955.46 L944.75,955.72 L954.12,955.99 L963.49,956.27 L972.86,956.57 L982.23,956.87 L991.60,957.18 L1000.97,957.50 L1010.34,957.82 L1019.71,958.14 L1029.08,958.46 L1038.45,958.77 L1047.82,959.08 L1057.19,959.38 L1066.56,959.67 L1075.93,959.95 L1085.30,960.22 L1094.67,960.47 L1104.04,960.70 L1113.41,960.91 L1122.78,961.10 L1132.15,961.26 L1141.52,961.40 L1150.89,961.51 L1160.26,961.59 L1169.63,961.63 L1179.00,961.65 L1188.37,961.62 L1197.74,961.56 L1207.11,961.45 L1216.48,961.30 L1225.85,961.11" fill="none" stroke="#0000ff" stroke-width="2"/>
<path d="M804.20,962.98 L813.57,962.99 L822.94,962.99 L832.31,963.00 L841.68,963.01 L851.05,963.02 L860.42,963.02 L869.79,963.03 L879.16,963.04 L888.53,963.05 L897.90,963.05 L907.27,963.06 L916.64,963.07 L926.01,963.08 L935.38,963.08 L944.75,963.09 L954.12,963.10 L963.49,963.11 L972.86,963.11 L982.23,963.12 L991.60,963.13 L1000.97,963.14 L1010.34,963.15 L1019.71,963.15 L1029.08,963.16 L1038.45,963.17 L1047.82,963.18 L1057.19,963.18 L1066.56,963.19 L1075.93,963.20 L1085.30,963.21 L1094.67,963.21 L1104.04,963.22 L1113.41,963.23 L1122.78,963.24 L1132.15,963.24 L1141.52,963.25 L1150.89,963.26 L1160.26,963.27 L1169.63,963.27 L1179.00,963.28 L1188.37,963.29 L1197.74,963.30 L1207.11,963.30 L1216.48,963.31 L1225.85,963.32" fill="none" stroke="#800080" stroke-width="4.6"/>
<line x1="804.2" y1="622" x2="804.2" y2="978" stroke="#000" stroke-width="3"/>
<line x1="789.3" y1="964.00" x2="804.2" y2="964.00" stroke="#000" stroke-width="3"/>
<text transform="translate(786.80,976.00) scale(1,1.06)" font-size="32" text-anchor="end" fill="#000" stroke="#000" stroke-width="0.3">0</text>
<line x1="789.3" y1="878.90" x2="804.2" y2="878.90" stroke="#000" stroke-width="3"/>
<text transform="translate(786.80,890.90) scale(1,1.06)" font-size="32" text-anchor="end" fill="#000" stroke="#000" stroke-width="0.3">5</text>
<line x1="789.3" y1="793.80" x2="804.2" y2="793.80" stroke="#000" stroke-width="3"/>
<text transform="translate(786.80,805.80) scale(1,1.06)" font-size="32" text-anchor="end" fill="#000" stroke="#000" stroke-width="0.3">10</text>
<line x1="789.3" y1="708.70" x2="804.2" y2="708.70" stroke="#000" stroke-width="3"/>
<text transform="translate(786.80,720.70) scale(1,1.06)" font-size="32" text-anchor="end" fill="#000" stroke="#000" stroke-width="0.3">15</text>
<line x1="789.3" y1="623.60" x2="804.2" y2="623.60" stroke="#000" stroke-width="3"/>
<text transform="translate(786.80,635.60) scale(1,1.06)" font-size="32" text-anchor="end" fill="#000" stroke="#000" stroke-width="0.3">20</text>
<line x1="804.20" y1="964.0" x2="804.20" y2="977.5" stroke="#000" stroke-width="3"/>
<text transform="translate(804.20,1011.80) scale(1,1.06)" font-size="32" text-anchor="middle" fill="#000" stroke="#000" stroke-width="0.3">0</text>
<line x1="897.90" y1="964.0" x2="897.90" y2="977.5" stroke="#000" stroke-width="3"/>
<text transform="translate(897.90,1011.80) scale(1,1.06)" font-size="32" text-anchor="middle" fill="#000" stroke="#000" stroke-width="0.3">20</text>
<line x1="991.60" y1="964.0" x2="991.60" y2="977.5" stroke="#000" stroke-width="3"/>
<text transform="translate(991.60,1011.80) scale(1,1.06)" font-size="32" text-anchor="middle" fill="#000" stroke="#000" stroke-width="0.3">40</text>
<line x1="1085.30" y1="964.0" x2="1085.30" y2="977.5" stroke="#000" stroke-width="3"/>
<text transform="translate(1085.30,1011.80) scale(1,1.06)" font-size="32" text-anchor="middle" fill="#000" stroke="#000" stroke-width="0.3">60</text>
<line x1="1179.00" y1="964.0" x2="1179.00" y2="977.5" stroke="#000" stroke-width="3"/>
<text transform="translate(1179.00,1011.80) scale(1,1.06)" font-size="32" text-anchor="middle" fill="#000" stroke="#000" stroke-width="0.3">80</text>
<line x1="1272.70" y1="964.0" x2="1272.70" y2="977.5" stroke="#000" stroke-width="3"/>
<text transform="translate(1272.70,1011.80) scale(1,1.06)" font-size="32" text-anchor="middle" fill="#000" stroke="#000" stroke-width="0.3">100</text>
<text transform="translate(1038.40,1056.00) scale(1,1.0)" font-size="31" text-anchor="middle" fill="#000" stroke="#000" stroke-width="0.3">Time (min)</text>
<text transform="translate(726.7,850) rotate(-90) scale(1,1.06)" font-size="32" stroke="#000" stroke-width="0.3">SUV<tspan font-size="21.5" dy="6">mean</tspan></text>
<line x1="827.62" y1="729.63" x2="827.62" y2="767.76" stroke="#fd9f45" stroke-width="1.6"/><line x1="820.62" y1="767.76" x2="834.62" y2="767.76" stroke="#fd9f45" stroke-width="1.6"/>
<circle cx="827.62" cy="729.63" r="7.00" fill="#fd9f45"/>
<line x1="851.05" y1="806.05" x2="851.05" y2="820.69" stroke="#fd9f45" stroke-width="1.6"/><line x1="844.05" y1="820.69" x2="858.05" y2="820.69" stroke="#fd9f45" stroke-width="1.6"/>
<circle cx="851.05" cy="806.05" r="7.00" fill="#fd9f45"/>
<line x1="897.90" y1="841.46" x2="897.90" y2="849.97" stroke="#fd9f45" stroke-width="1.6"/><line x1="890.90" y1="849.97" x2="904.90" y2="849.97" stroke="#fd9f45" stroke-width="1.6"/>
<circle cx="897.90" cy="841.46" r="7.00" fill="#fd9f45"/>
<circle cx="991.60" cy="854.22" r="7.00" fill="#fd9f45"/>
<circle cx="1225.85" cy="928.26" r="7.00" fill="#fd9f45"/>
<path d="M827.62,925.29 L836.38,934.04 L827.62,942.79 L818.88,934.04 Z" fill="#0b4f5f"/>
<path d="M851.05,929.38 L859.80,938.13 L851.05,946.88 L842.30,938.13 Z" fill="#0b4f5f"/>
<path d="M897.90,932.95 L906.65,941.70 L897.90,950.45 L889.15,941.70 Z" fill="#0b4f5f"/>
<path d="M991.60,939.08 L1000.35,947.83 L991.60,956.58 L982.85,947.83 Z" fill="#0b4f5f"/>
<path d="M1225.85,950.14 L1234.60,958.89 L1225.85,967.64 L1217.10,958.89 Z" fill="#0b4f5f"/>
<rect x="820.62" y="944.75" width="14.00" height="14.00" fill="#0000ff"/>
<rect x="844.05" y="944.75" width="14.00" height="14.00" fill="#0000ff"/>
<rect x="890.90" y="945.09" width="14.00" height="14.00" fill="#0000ff"/>
<rect x="984.60" y="946.79" width="14.00" height="14.00" fill="#0000ff"/>
<rect x="1218.85" y="952.92" width="14.00" height="14.00" fill="#0000ff"/>
<path d="M827.62,955.47 L834.62,969.47 L820.62,969.47 Z" fill="#800080"/>
<path d="M851.05,955.47 L858.05,969.47 L844.05,969.47 Z" fill="#800080"/>
<path d="M897.90,955.47 L904.90,969.47 L890.90,969.47 Z" fill="#800080"/>
<path d="M991.60,955.47 L998.60,969.47 L984.60,969.47 Z" fill="#800080"/>
<path d="M1225.85,955.47 L1232.85,969.47 L1218.85,969.47 Z" fill="#800080"/>
<line x1="1106.9" y1="670.1" x2="1143.4" y2="670.1" stroke="#fd9a3e" stroke-width="4.4"/>
<circle cx="1125.10" cy="670.10" r="7.00" fill="#fd9a3e"/>
<text transform="translate(1159.50,680.70) scale(1,1.06)" font-size="31" text-anchor="start" fill="#ff8000" stroke="#ff8000" stroke-width="0.3">Kidney</text>
<line x1="1106.9" y1="709.1" x2="1143.4" y2="709.1" stroke="#0b4f5f" stroke-width="2"/>
<path d="M1125.10,700.35 L1133.85,709.10 L1125.10,717.85 L1116.35,709.10 Z" fill="#0b4f5f"/>
<text transform="translate(1159.50,717.80) scale(1,1.06)" font-size="31" text-anchor="start" fill="#0b4f5f" stroke="#0b4f5f" stroke-width="0.3">Bone marrow</text>
<line x1="1106.9" y1="743.1" x2="1143.4" y2="743.1" stroke="#0000ff" stroke-width="2"/>
<rect x="1118.10" y="736.10" width="14.00" height="14.00" fill="#0000ff"/>
<text transform="translate(1159.50,752.90) scale(1,1.06)" font-size="31" text-anchor="start" fill="#0000ff" stroke="#0000ff" stroke-width="0.3">Muscle</text>
<line x1="1106.9" y1="779.6" x2="1143.4" y2="779.6" stroke="#800080" stroke-width="4.6"/>
<path d="M1125.10,772.60 L1132.10,786.60 L1118.10,786.60 Z" fill="#800080"/>
<text transform="translate(1159.50,788.80) scale(1,1.06)" font-size="31" text-anchor="start" fill="#800080" stroke="#800080" stroke-width="0.3">Brain</text>
</g>
<defs><filter id="b0p6" filterUnits="userSpaceOnUse" x="0" y="0" width="1349" height="570"><feGaussianBlur stdDeviation="0.6"/></filter><filter id="b1" filterUnits="userSpaceOnUse" x="0" y="0" width="1349" height="570"><feGaussianBlur stdDeviation="1"/></filter><filter id="b1p5" filterUnits="userSpaceOnUse" x="0" y="0" width="1349" height="570"><feGaussianBlur stdDeviation="1.5"/></filter><filter id="b2" filterUnits="userSpaceOnUse" x="0" y="0" width="1349" height="570"><feGaussianBlur stdDeviation="2"/></filter><filter id="b3" filterUnits="userSpaceOnUse" x="0" y="0" width="1349" height="570"><feGaussianBlur stdDeviation="3"/></filter><filter id="b4" filterUnits="userSpaceOnUse" x="0" y="0" width="1349" height="570"><feGaussianBlur stdDeviation="4"/></filter><filter id="b5" filterUnits="userSpaceOnUse" x="0" y="0" width="1349" height="570"><feGaussianBlur stdDeviation="5"/></filter><filter id="b6" filterUnits="userSpaceOnUse" x="0" y="0" width="1349" height="570"><feGaussianBlur stdDeviation="6"/></filter><filter id="b8" filterUnits="userSpaceOnUse" x="0" y="0" width="1349" height="570"><feGaussianBlur stdDeviation="8"/></filter><filter id="noise" x="0" y="0" width="1349" height="560" filterUnits="userSpaceOnUse"><feTurbulence type="fractalNoise" baseFrequency="0.16" numOctaves="3" seed="11"/><feColorMatrix type="matrix" values="0 0 0 0 0  0 0 0 0 0  0 0 0 0 0  1.8 0 0 0 -0.7"/><feGaussianBlur stdDeviation="0.9"/></filter></defs>
<mask id="c1" maskUnits="userSpaceOnUse" x="0" y="0" width="1349" height="560"><g fill="#fff" filter="url(#b2)"><path d="M131.0,38.0 L121.0,55.0 L116.5,82.0 L117.5,113.0 L120.0,133.0 L125.0,160.0 L133.0,196.0 L140.0,215.0 L190.0,200.0 L180.0,175.0 L178.0,164.0 L166.0,150.0 L155.5,133.0 L147.5,113.0 L144.5,93.0 L148.0,77.0 L162.0,55.0 L170.0,38.0 Z"/><path d="M233.0,38.0 L259.0,37.0 L286.0,38.0 L298.0,55.0 L308.0,82.0 L308.0,113.0 L304.0,133.0 L296.0,160.0 L288.0,196.0 L282.0,215.0 L235.0,200.0 L243.0,175.0 L249.0,162.0 L261.0,150.0 L271.5,133.0 L279.5,113.0 L281.5,92.0 L277.5,77.0 L265.0,63.0 L249.0,51.0 Z"/><path d="M133.0,196.0 L150.0,185.0 L180.0,172.0 L245.0,172.0 L272.0,185.0 L288.0,196.0 L283.0,230.0 L280.0,270.0 L281.0,320.0 L283.0,400.0 L284.0,450.0 L283.0,511.0 L140.0,511.0 L138.0,450.0 L138.0,400.0 L142.0,320.0 L145.0,270.0 L139.0,230.0 Z"/><path d="M210.0,66.5 C216.0,66.5 223.0,67.6 228.0,70.0 C233.0,72.4 237.2,76.3 240.0,81.0 C242.8,85.7 243.8,91.5 244.5,98.0 C245.2,104.5 244.8,113.0 244.0,120.0 C243.2,127.0 241.2,133.7 240.0,140.0 C238.8,146.3 236.7,151.3 237.0,158.0 C237.3,164.7 251.3,176.3 242.0,180.0 C232.7,183.7 190.3,183.7 181.0,180.0 C171.7,176.3 186.2,164.7 186.0,158.0 C185.8,151.3 181.7,146.3 180.0,140.0 C178.3,133.7 176.8,127.0 176.0,120.0 C175.2,113.0 174.8,104.5 175.5,98.0 C176.2,91.5 177.2,85.7 180.0,81.0 C182.8,76.3 187.0,72.4 192.0,70.0 C197.0,67.6 204.0,66.5 210.0,66.5 Z"/></g></mask><g mask="url(#c1)"><rect x="0" y="0" width="1349" height="560" fill="#f2f2f2"/>
<ellipse cx="212.0" cy="240.0" rx="62.0" ry="58.0" fill="#e6e6e6" filter="url(#b8)"/>
<ellipse cx="212.0" cy="330.0" rx="55.0" ry="45.0" fill="#ececec" filter="url(#b8)"/>
<path d="M150.0,40.0 C147.5,45.0 138.3,60.0 135.0,70.0 C131.7,80.0 129.8,90.0 130.0,100.0 C130.2,110.0 133.0,120.0 136.0,130.0 C139.0,140.0 146.0,155.0 148.0,160.0" fill="none" stroke="#f5f5f5" stroke-width="14" stroke-linecap="round" stroke-linejoin="round" filter="url(#b5)"/>
<path d="M262.0,42.0 C266.2,47.5 281.8,64.5 287.0,75.0 C292.2,85.5 293.2,94.2 293.0,105.0 C292.8,115.8 289.5,130.0 286.0,140.0 C282.5,150.0 274.3,160.8 272.0,165.0" fill="none" stroke="#f5f5f5" stroke-width="14" stroke-linecap="round" stroke-linejoin="round" filter="url(#b5)"/>
<path d="M210.0,69.0 C215.3,69.0 221.5,69.8 226.0,72.0 C230.5,74.2 234.4,77.7 237.0,82.0 C239.6,86.3 240.8,91.7 241.5,98.0 C242.2,104.3 241.8,113.0 241.0,120.0 C240.2,127.0 238.2,133.7 237.0,140.0 C235.8,146.3 241.8,155.0 234.0,158.0 C226.2,161.0 198.0,161.0 190.0,158.0 C182.0,155.0 187.8,146.3 186.0,140.0 C184.2,133.7 180.2,127.0 179.0,120.0 C177.8,113.0 177.8,104.3 178.5,98.0 C179.2,91.7 180.4,86.3 183.0,82.0 C185.6,77.7 189.5,74.2 194.0,72.0 C198.5,69.8 204.7,69.0 210.0,69.0 Z" fill="#e2e2e2" filter="url(#b2)"/>
<ellipse cx="212.0" cy="150.0" rx="22.0" ry="30.0" fill="#dcdcdc" filter="url(#b4)"/>
<path d="M209.0,68.0 C209.2,70.8 209.6,79.7 210.0,85.0 C210.4,90.3 211.2,94.8 211.5,100.0 C211.8,105.2 211.9,113.3 212.0,116.0" fill="none" stroke="#5a5a5a" stroke-width="2.8" stroke-linecap="round" stroke-linejoin="round" filter="url(#b0p6)"/>
<path d="M194.0,119.0 C194.7,118.2 196.0,114.7 198.0,114.0 C200.0,113.3 203.5,114.2 206.0,115.0 C208.5,115.8 210.7,119.2 213.0,119.0 C215.3,118.8 217.3,114.5 220.0,114.0 C222.7,113.5 226.7,114.8 229.0,116.0 C231.3,117.2 233.2,120.2 234.0,121.0" fill="none" stroke="#646464" stroke-width="2.4" stroke-linecap="round" stroke-linejoin="round" filter="url(#b0p6)"/>
<path d="M196.0,119.0 C195.7,120.0 193.3,123.7 194.0,125.0 C194.7,126.3 198.0,127.3 200.0,127.0 C202.0,126.7 205.0,123.7 206.0,123.0" fill="none" stroke="#6e6e6e" stroke-width="2.2" stroke-linecap="round" stroke-linejoin="round" filter="url(#b0p6)"/>
<path d="M203.0,128.0 C202.8,131.7 201.8,143.0 202.0,150.0 C202.2,157.0 203.5,163.7 204.0,170.0 C204.5,176.3 204.8,185.0 205.0,188.0" fill="none" stroke="#a0a0a0" stroke-width="3.4" stroke-linecap="round" stroke-linejoin="round" filter="url(#b1)"/>
<path d="M224.0,126.0 C224.2,130.0 224.5,142.7 225.0,150.0 C225.5,157.3 226.5,163.7 227.0,170.0 C227.5,176.3 227.8,185.0 228.0,188.0" fill="none" stroke="#a5a5a5" stroke-width="3.4" stroke-linecap="round" stroke-linejoin="round" filter="url(#b1)"/>
<path d="M163.0,42.0 C160.8,45.0 153.3,53.3 150.0,60.0 C146.7,66.7 144.7,74.5 143.0,82.0 C141.3,89.5 139.8,97.3 140.0,105.0 C140.2,112.7 142.3,120.5 144.0,128.0 C145.7,135.5 147.3,142.7 150.0,150.0 C152.7,157.3 157.0,165.7 160.0,172.0 C163.0,178.3 166.7,185.3 168.0,188.0" fill="none" stroke="#a8a8a8" stroke-width="2.4" stroke-linecap="round" stroke-linejoin="round" filter="url(#b1)"/>
<path d="M128.0,60.0 C127.2,65.0 123.3,78.3 123.0,90.0 C122.7,101.7 124.2,116.7 126.0,130.0 C127.8,143.3 132.7,163.3 134.0,170.0" fill="none" stroke="#c8c8c8" stroke-width="2" stroke-linecap="round" stroke-linejoin="round" filter="url(#b1p5)"/>
<path d="M250.0,45.0 C253.3,47.8 264.8,54.5 270.0,62.0 C275.2,69.5 278.8,80.7 281.0,90.0 C283.2,99.3 283.8,108.8 283.0,118.0 C282.2,127.2 279.5,136.3 276.0,145.0 C272.5,153.7 266.7,162.8 262.0,170.0 C257.3,177.2 250.3,185.0 248.0,188.0" fill="none" stroke="#a5a5a5" stroke-width="2.6" stroke-linecap="round" stroke-linejoin="round" filter="url(#b1)"/>
<ellipse cx="142.0" cy="82.0" rx="2.8" ry="2.8" fill="#000000" filter="url(#b0p6)"/>
<ellipse cx="145.5" cy="131.5" rx="2.2" ry="2.2" fill="#1e1e1e" filter="url(#b0p6)"/>
<ellipse cx="150.0" cy="170.0" rx="1.8" ry="1.8" fill="#3c3c3c" filter="url(#b0p6)"/>
<path d="M160.0,184.0 C161.3,185.8 165.0,192.8 168.0,195.0 C171.0,197.2 174.7,197.7 178.0,197.0 C181.3,196.3 184.7,192.2 188.0,191.0 C191.3,189.8 194.3,189.2 198.0,190.0 C201.7,190.8 208.0,195.0 210.0,196.0" fill="none" stroke="#6e6e6e" stroke-width="4" stroke-linecap="round" stroke-linejoin="round" filter="url(#b1)"/>
<path d="M214.0,194.0 C216.0,193.2 221.7,190.0 226.0,189.0 C230.3,188.0 235.3,188.5 240.0,188.0 C244.7,187.5 251.7,186.3 254.0,186.0" fill="none" stroke="#7d7d7d" stroke-width="3.4" stroke-linecap="round" stroke-linejoin="round" filter="url(#b1)"/>
<path d="M205.0,196.0 C208.8,193.0 217.8,192.5 222.0,194.0 C226.2,195.5 228.3,200.3 230.0,205.0 C231.7,209.7 230.3,216.2 232.0,222.0 C233.7,227.8 238.0,234.5 240.0,240.0 C242.0,245.5 244.7,250.8 244.0,255.0 C243.3,259.2 239.7,263.2 236.0,265.0 C232.3,266.8 226.3,266.5 222.0,266.0 C217.7,265.5 213.7,264.7 210.0,262.0 C206.3,259.3 202.2,255.0 200.0,250.0 C197.8,245.0 197.2,238.3 197.0,232.0 C196.8,225.7 197.7,218.0 199.0,212.0 C200.3,206.0 201.2,199.0 205.0,196.0 Z" fill="#7a7a7a" filter="url(#b2)"/>
<ellipse cx="212.0" cy="215.0" rx="8.0" ry="14.0" fill="#646464" filter="url(#b2)"/>
<ellipse cx="224.0" cy="240.0" rx="8.0" ry="12.0" fill="#646464" filter="url(#b2)"/>
<ellipse cx="236.0" cy="252.0" rx="6.0" ry="7.0" fill="#6e6e6e" filter="url(#b2)"/>
<ellipse cx="220.7" cy="244.5" rx="2.6" ry="3.2" fill="#767676" filter="url(#b1)"/>
<ellipse cx="217.0" cy="203.8" rx="2.9" ry="2.5" fill="#7f7f7f" filter="url(#b1)"/>
<ellipse cx="225.0" cy="237.5" rx="2.0" ry="1.8" fill="#797979" filter="url(#b1)"/>
<ellipse cx="216.1" cy="219.0" rx="3.4" ry="2.7" fill="#727272" filter="url(#b1)"/>
<ellipse cx="220.5" cy="248.8" rx="2.6" ry="2.4" fill="#636363" filter="url(#b1)"/>
<ellipse cx="224.9" cy="256.2" rx="3.7" ry="2.8" fill="#6e6e6e" filter="url(#b1)"/>
<ellipse cx="224.2" cy="235.5" rx="2.7" ry="2.6" fill="#646464" filter="url(#b1)"/>
<ellipse cx="217.9" cy="218.2" rx="2.6" ry="3.1" fill="#737373" filter="url(#b1)"/>
<ellipse cx="221.9" cy="219.0" rx="2.6" ry="2.1" fill="#737373" filter="url(#b1)"/>
<ellipse cx="208.8" cy="232.8" rx="2.2" ry="2.0" fill="#747474" filter="url(#b1)"/>
<ellipse cx="226.1" cy="246.8" rx="3.4" ry="3.1" fill="#828282" filter="url(#b1)"/>
<ellipse cx="224.7" cy="222.4" rx="3.1" ry="3.0" fill="#6a6a6a" filter="url(#b1)"/>
<ellipse cx="225.5" cy="241.0" rx="3.4" ry="3.6" fill="#747474" filter="url(#b1)"/>
<ellipse cx="208.8" cy="211.1" rx="2.2" ry="2.3" fill="#5d5d5d" filter="url(#b1)"/>
<ellipse cx="225.2" cy="234.5" rx="3.4" ry="4.3" fill="#666666" filter="url(#b1)"/>
<ellipse cx="230.5" cy="245.6" rx="3.0" ry="3.4" fill="#8c8c8c" filter="url(#b1)"/>
<ellipse cx="224.5" cy="256.8" rx="3.3" ry="3.4" fill="#6d6d6d" filter="url(#b1)"/>
<ellipse cx="208.7" cy="213.5" rx="3.5" ry="4.4" fill="#888888" filter="url(#b1)"/>
<ellipse cx="230.9" cy="234.6" rx="2.2" ry="2.7" fill="#757575" filter="url(#b1)"/>
<ellipse cx="228.8" cy="231.1" rx="2.9" ry="2.3" fill="#636363" filter="url(#b1)"/>
<ellipse cx="223.8" cy="210.6" rx="2.8" ry="2.3" fill="#585858" filter="url(#b1)"/>
<ellipse cx="226.8" cy="241.1" rx="3.0" ry="3.2" fill="#676767" filter="url(#b1)"/>
<ellipse cx="175.0" cy="262.0" rx="18.0" ry="16.0" fill="#d4d4d4" filter="url(#b5)"/>
<path d="M217.0,300.0 C216.7,306.7 215.5,326.7 215.0,340.0 C214.5,353.3 214.2,370.8 214.0,380.0 C213.8,389.2 214.0,392.5 214.0,395.0" fill="none" stroke="#c0c0c0" stroke-width="20" stroke-linecap="round" stroke-linejoin="round" filter="url(#b3)"/>
<path d="M222.0,258.0 C221.7,261.7 220.8,273.0 220.0,280.0 C219.2,287.0 217.7,291.7 217.0,300.0 C216.3,308.3 216.3,321.7 216.0,330.0 C215.7,338.3 215.2,346.7 215.0,350.0" fill="none" stroke="#808080" stroke-width="6.5" stroke-linecap="round" stroke-linejoin="round" filter="url(#b1)"/>
<path d="M208.0,300.0 C207.8,306.7 207.3,328.3 207.0,340.0 C206.7,351.7 206.2,365.0 206.0,370.0" fill="none" stroke="#afafaf" stroke-width="3" stroke-linecap="round" stroke-linejoin="round" filter="url(#b1)"/>
<ellipse cx="176.0" cy="286.0" rx="24.0" ry="34.0" fill="#c0c0c0" filter="url(#b6)"/>
<ellipse cx="254.0" cy="295.0" rx="18.0" ry="18.0" fill="#c0c0c0" filter="url(#b5)"/>
<path d="M187.5,286.5 C190.4,286.0 194.0,287.0 196.2,288.6 C198.3,290.2 200.5,293.5 200.5,296.1 C200.5,298.8 197.1,301.9 196.2,304.7 C195.3,307.6 194.7,310.4 195.1,313.3 C195.4,316.1 198.5,319.2 198.3,321.9 C198.2,324.5 196.2,327.8 194.0,329.4 C191.8,331.0 188.0,332.0 185.3,331.5 C182.6,331.0 179.6,328.8 177.8,326.1 C175.9,323.5 175.0,319.4 174.5,315.4 C174.0,311.5 173.8,306.5 174.5,302.6 C175.2,298.6 176.7,294.5 178.8,291.9 C181.0,289.2 184.6,287.0 187.5,286.5 Z" fill="#000000" filter="url(#b0p6)"/>
<path d="M243.5,297.5 C240.2,297.0 236.0,298.0 233.5,299.4 C231.0,300.8 228.5,303.7 228.5,306.1 C228.5,308.5 232.5,311.2 233.5,313.7 C234.5,316.2 235.2,318.8 234.8,321.3 C234.3,323.8 230.8,326.5 231.0,328.9 C231.2,331.3 233.5,334.2 236.0,335.6 C238.5,337.0 242.9,338.0 246.0,337.5 C249.1,337.0 252.7,335.1 254.8,332.7 C256.8,330.4 257.9,326.7 258.5,323.2 C259.1,319.7 259.3,315.3 258.5,311.8 C257.7,308.3 256.0,304.6 253.5,302.3 C251.0,299.9 246.8,298.0 243.5,297.5 Z" fill="#000000" filter="url(#b0p6)"/>
<path d="M196.0,318.0 C196.4,320.3 198.1,329.7 198.5,332.0" fill="none" stroke="#000000" stroke-width="4.5" stroke-linecap="round" stroke-linejoin="round" filter="url(#b0p6)"/>
<path d="M230.0,322.0 C229.9,324.3 229.6,333.7 229.5,336.0" fill="none" stroke="#000000" stroke-width="4.5" stroke-linecap="round" stroke-linejoin="round" filter="url(#b0p6)"/>
<path d="M199.0,353.0 C199.0,355.5 198.9,363.0 199.0,368.0 C199.1,373.0 199.4,380.5 199.5,383.0" fill="none" stroke="#000000" stroke-width="5" stroke-linecap="round" stroke-linejoin="round" filter="url(#b0p6)"/>
<path d="M229.0,336.0 C229.0,338.3 229.0,345.7 229.0,350.0 C229.0,354.3 228.9,358.0 229.0,362.0 C229.1,366.0 229.4,372.0 229.5,374.0" fill="none" stroke="#000000" stroke-width="4.5" stroke-linecap="round" stroke-linejoin="round" filter="url(#b0p6)"/>
<ellipse cx="215.0" cy="405.0" rx="15.0" ry="12.0" fill="#d7d7d7" filter="url(#b3)"/>
<path d="M198.5,391 C196,404 197,415 204,420 C212,424 222,424 229,419.5 C235,414 234,402 231.5,392" fill="none" stroke="#000" stroke-width="5.5" filter="url(#b0p6)"/>
<ellipse cx="215.0" cy="418.0" rx="13.0" ry="5.0" fill="#000000" filter="url(#b0p6)"/>
<path d="M193.0,392.0 C192.3,396.7 190.5,408.7 189.0,420.0 C187.5,431.3 185.2,444.8 184.0,460.0 C182.8,475.2 181.9,502.5 181.5,511.0" fill="none" stroke="#b4b4b4" stroke-width="4" stroke-linecap="round" stroke-linejoin="round" filter="url(#b1)"/>
<path d="M234.0,392.0 C234.8,396.7 237.5,408.7 239.0,420.0 C240.5,431.3 242.1,444.8 243.0,460.0 C243.9,475.2 244.2,502.5 244.5,511.0" fill="none" stroke="#b4b4b4" stroke-width="4" stroke-linecap="round" stroke-linejoin="round" filter="url(#b1)"/>
<ellipse cx="213.0" cy="477.0" rx="10.0" ry="9.0" fill="#cdcdcd" filter="url(#b3)"/>
<path d="M208.0,488.0 L218.0,488.0 L219.0,515.0 L207.0,515.0 Z" fill="#fafafa" filter="url(#b2)"/>
<rect x="100" y="30" width="220" height="490" fill="#000" filter="url(#noise)" opacity="0.2"/></g>
<mask id="c2" maskUnits="userSpaceOnUse" x="0" y="0" width="1349" height="560"><g fill="#fff" filter="url(#b2)"><path d="M358.0,90.0 L380.0,62.0 L400.0,33.5 L437.0,32.5 L470.0,33.5 L500.0,57.0 L530.0,82.0 L539.0,103.0 L537.5,133.0 L527.0,170.0 L518.0,195.0 L478.0,178.0 L491.0,162.0 L506.0,142.0 L512.0,113.0 L507.0,92.0 L486.0,72.0 L470.0,58.0 L455.0,50.0 L438.0,49.0 L419.0,50.0 L401.0,65.0 L390.0,80.0 L381.0,100.0 L382.0,122.0 L394.0,155.0 L412.0,174.0 L422.0,180.0 L369.0,195.0 L362.0,152.0 L357.0,113.0 Z"/><path d="M367.0,195.0 L395.0,185.0 L422.0,178.0 L472.0,178.0 L500.0,185.0 L518.0,195.0 L513.0,235.0 L511.0,280.0 L514.0,320.0 L517.0,363.0 L521.0,419.0 L519.0,470.0 L517.0,512.0 L381.0,512.0 L378.0,470.0 L375.5,419.0 L378.0,363.0 L383.0,320.0 L384.0,280.0 L374.0,235.0 Z"/><path d="M420.0,120.0 L470.0,120.0 L471.0,160.0 L474.0,182.0 L418.0,182.0 L422.0,160.0 Z"/><path d="M444.0,83.5 C450.0,83.5 457.2,84.6 462.0,87.0 C466.8,89.4 470.5,93.5 473.0,98.0 C475.5,102.5 476.4,108.0 477.0,114.0 C477.6,120.0 477.2,128.0 476.5,134.0 C475.8,140.0 473.9,144.7 473.0,150.0 C472.1,155.3 471.0,160.2 471.0,166.0 C471.0,171.8 481.8,181.8 473.0,185.0 C464.2,188.2 426.8,188.2 418.0,185.0 C409.2,181.8 420.3,171.8 420.0,166.0 C419.7,160.2 417.3,155.3 416.0,150.0 C414.7,144.7 412.8,140.0 412.0,134.0 C411.2,128.0 410.5,120.0 411.0,114.0 C411.5,108.0 412.5,102.5 415.0,98.0 C417.5,93.5 421.2,89.4 426.0,87.0 C430.8,84.6 438.0,83.5 444.0,83.5 Z"/></g></mask><g mask="url(#c2)"><rect x="0" y="0" width="1349" height="560" fill="#f3f3f3"/>
<ellipse cx="448.0" cy="245.0" rx="62.0" ry="58.0" fill="#e9e9e9" filter="url(#b8)"/>
<ellipse cx="448.0" cy="335.0" rx="55.0" ry="45.0" fill="#eeeeee" filter="url(#b8)"/>
<path d="M398.0,44.0 C394.5,48.3 382.0,60.7 377.0,70.0 C372.0,79.3 368.8,90.0 368.0,100.0 C367.2,110.0 369.2,120.0 372.0,130.0 C374.8,140.0 382.8,155.0 385.0,160.0" fill="none" stroke="#f6f6f6" stroke-width="14" stroke-linecap="round" stroke-linejoin="round" filter="url(#b5)"/>
<path d="M478.0,44.0 C482.2,47.7 495.2,56.7 503.0,66.0 C510.8,75.3 521.5,88.5 525.0,100.0 C528.5,111.5 526.2,124.2 524.0,135.0 C521.8,145.8 514.0,160.0 512.0,165.0" fill="none" stroke="#f6f6f6" stroke-width="14" stroke-linecap="round" stroke-linejoin="round" filter="url(#b5)"/>
<path d="M444.0,86.0 C449.3,86.0 455.5,86.8 460.0,89.0 C464.5,91.2 468.6,94.8 471.0,99.0 C473.4,103.2 474.0,108.2 474.5,114.0 C475.0,119.8 474.6,128.0 474.0,134.0 C473.4,140.0 471.8,145.0 471.0,150.0 C470.2,155.0 477.3,161.7 469.0,164.0 C460.7,166.3 429.5,166.3 421.0,164.0 C412.5,161.7 419.2,155.0 418.0,150.0 C416.8,145.0 414.8,140.0 414.0,134.0 C413.2,128.0 413.0,119.8 413.5,114.0 C414.0,108.2 414.6,103.2 417.0,99.0 C419.4,94.8 423.5,91.2 428.0,89.0 C432.5,86.8 438.7,86.0 444.0,86.0 Z" fill="#e4e4e4" filter="url(#b2)"/>
<ellipse cx="446.0" cy="162.0" rx="22.0" ry="24.0" fill="#e0e0e0" filter="url(#b4)"/>
<path d="M441.0,88.0 C441.5,90.8 443.2,99.7 444.0,105.0 C444.8,110.3 445.5,115.0 446.0,120.0 C446.5,125.0 446.8,132.5 447.0,135.0" fill="none" stroke="#8c8c8c" stroke-width="2.6" stroke-linecap="round" stroke-linejoin="round" filter="url(#b0p6)"/>
<path d="M425.0,136.0 C426.2,135.3 429.5,132.0 432.0,132.0 C434.5,132.0 437.0,135.7 440.0,136.0 C443.0,136.3 447.0,133.8 450.0,134.0 C453.0,134.2 456.7,136.5 458.0,137.0" fill="none" stroke="#a0a0a0" stroke-width="2.2" stroke-linecap="round" stroke-linejoin="round" filter="url(#b0p6)"/>
<path d="M436.0,140.0 C435.8,143.3 435.0,153.3 435.0,160.0 C435.0,166.7 435.5,174.0 436.0,180.0 C436.5,186.0 437.7,193.3 438.0,196.0" fill="none" stroke="#b4b4b4" stroke-width="3.2" stroke-linecap="round" stroke-linejoin="round" filter="url(#b1)"/>
<path d="M455.0,140.0 C455.3,143.3 456.3,153.3 457.0,160.0 C457.7,166.7 458.3,174.0 459.0,180.0 C459.7,186.0 460.7,193.3 461.0,196.0" fill="none" stroke="#b9b9b9" stroke-width="3.2" stroke-linecap="round" stroke-linejoin="round" filter="url(#b1)"/>
<path d="M399.0,48.0 C396.7,52.0 388.5,63.3 385.0,72.0 C381.5,80.7 379.2,92.0 378.0,100.0 C376.8,108.0 377.5,113.3 378.0,120.0 C378.5,126.7 379.2,133.3 381.0,140.0 C382.8,146.7 386.0,153.7 389.0,160.0 C392.0,166.3 396.0,173.0 399.0,178.0 C402.0,183.0 405.7,188.0 407.0,190.0" fill="none" stroke="#b4b4b4" stroke-width="2.4" stroke-linecap="round" stroke-linejoin="round" filter="url(#b1)"/>
<path d="M473.0,45.0 C477.2,47.5 491.3,52.5 498.0,60.0 C504.7,67.5 509.8,81.7 513.0,90.0 C516.2,98.3 516.3,103.3 517.0,110.0 C517.7,116.7 518.0,122.5 517.0,130.0 C516.0,137.5 513.7,147.5 511.0,155.0 C508.3,162.5 504.3,169.2 501.0,175.0 C497.7,180.8 492.7,187.5 491.0,190.0" fill="none" stroke="#b4b4b4" stroke-width="2.4" stroke-linecap="round" stroke-linejoin="round" filter="url(#b1)"/>
<ellipse cx="381.0" cy="100.5" rx="2.6" ry="2.6" fill="#000000" filter="url(#b0p6)"/>
<ellipse cx="383.5" cy="146.0" rx="1.7" ry="1.7" fill="#3c3c3c" filter="url(#b0p6)"/>
<path d="M398.0,188.0 C399.5,190.0 403.7,198.0 407.0,200.0 C410.3,202.0 414.5,200.8 418.0,200.0 C421.5,199.2 424.3,195.3 428.0,195.0 C431.7,194.7 438.0,197.5 440.0,198.0" fill="none" stroke="#919191" stroke-width="3.4" stroke-linecap="round" stroke-linejoin="round" filter="url(#b1)"/>
<path d="M452.0,199.0 C454.0,198.5 459.7,196.7 464.0,196.0 C468.3,195.3 473.3,195.7 478.0,195.0 C482.7,194.3 489.7,192.5 492.0,192.0" fill="none" stroke="#9b9b9b" stroke-width="3" stroke-linecap="round" stroke-linejoin="round" filter="url(#b1)"/>
<path d="M440.0,203.0 C443.7,200.2 452.2,199.5 456.0,201.0 C459.8,202.5 461.5,207.5 463.0,212.0 C464.5,216.5 463.5,222.5 465.0,228.0 C466.5,233.5 470.2,239.7 472.0,245.0 C473.8,250.3 476.7,255.8 476.0,260.0 C475.3,264.2 471.7,268.2 468.0,270.0 C464.3,271.8 458.3,271.7 454.0,271.0 C449.7,270.3 445.3,268.8 442.0,266.0 C438.7,263.2 435.8,259.0 434.0,254.0 C432.2,249.0 431.0,242.0 431.0,236.0 C431.0,230.0 432.5,223.5 434.0,218.0 C435.5,212.5 436.3,205.8 440.0,203.0 Z" fill="#a8a8a8" filter="url(#b2)"/>
<ellipse cx="446.0" cy="222.0" rx="8.0" ry="14.0" fill="#969696" filter="url(#b2)"/>
<ellipse cx="458.0" cy="246.0" rx="8.0" ry="12.0" fill="#969696" filter="url(#b2)"/>
<ellipse cx="443.1" cy="260.2" rx="2.4" ry="2.4" fill="#bababa" filter="url(#b1)"/>
<ellipse cx="455.6" cy="254.0" rx="3.0" ry="2.5" fill="#9b9b9b" filter="url(#b1)"/>
<ellipse cx="438.6" cy="252.3" rx="2.9" ry="3.5" fill="#949494" filter="url(#b1)"/>
<ellipse cx="444.8" cy="232.9" rx="2.6" ry="2.7" fill="#ababab" filter="url(#b1)"/>
<ellipse cx="455.2" cy="223.9" rx="2.6" ry="2.3" fill="#999999" filter="url(#b1)"/>
<ellipse cx="440.6" cy="217.9" rx="3.9" ry="3.2" fill="#bcbcbc" filter="url(#b1)"/>
<ellipse cx="458.4" cy="254.8" rx="2.0" ry="1.4" fill="#a9a9a9" filter="url(#b1)"/>
<ellipse cx="452.5" cy="246.4" rx="4.0" ry="4.7" fill="#999999" filter="url(#b1)"/>
<ellipse cx="436.1" cy="236.2" rx="4.0" ry="4.7" fill="#a0a0a0" filter="url(#b1)"/>
<ellipse cx="453.5" cy="254.3" rx="3.0" ry="2.2" fill="#8d8d8d" filter="url(#b1)"/>
<ellipse cx="439.6" cy="223.1" rx="3.9" ry="4.7" fill="#acacac" filter="url(#b1)"/>
<ellipse cx="454.1" cy="246.1" rx="3.6" ry="4.5" fill="#bababa" filter="url(#b1)"/>
<ellipse cx="447.6" cy="210.1" rx="3.1" ry="2.3" fill="#b4b4b4" filter="url(#b1)"/>
<ellipse cx="442.0" cy="229.9" rx="2.5" ry="2.3" fill="#b4b4b4" filter="url(#b1)"/>
<ellipse cx="456.4" cy="237.6" rx="3.2" ry="4.0" fill="#bbbbbb" filter="url(#b1)"/>
<ellipse cx="447.1" cy="214.0" rx="2.8" ry="3.5" fill="#a6a6a6" filter="url(#b1)"/>
<ellipse cx="451.3" cy="259.0" rx="3.0" ry="3.6" fill="#a2a2a2" filter="url(#b1)"/>
<ellipse cx="436.7" cy="242.4" rx="2.8" ry="3.3" fill="#bdbdbd" filter="url(#b1)"/>
<path d="M452.0,300.0 C451.8,306.7 451.3,326.7 451.0,340.0 C450.7,353.3 450.2,370.0 450.0,380.0 C449.8,390.0 450.0,396.7 450.0,400.0" fill="none" stroke="#cbcbcb" stroke-width="20" stroke-linecap="round" stroke-linejoin="round" filter="url(#b3)"/>
<path d="M455.0,262.0 C454.8,266.7 454.5,280.3 454.0,290.0 C453.5,299.7 452.5,310.8 452.0,320.0 C451.5,329.2 451.2,340.8 451.0,345.0" fill="none" stroke="#a5a5a5" stroke-width="6.5" stroke-linecap="round" stroke-linejoin="round" filter="url(#b1)"/>
<ellipse cx="412.0" cy="292.0" rx="23.0" ry="33.0" fill="#cecece" filter="url(#b6)"/>
<ellipse cx="492.0" cy="302.0" rx="15.0" ry="17.0" fill="#cccccc" filter="url(#b5)"/>
<path d="M423.5,293.5 C426.2,293.0 429.5,294.0 431.5,295.4 C433.5,296.8 435.5,299.7 435.5,302.1 C435.5,304.5 432.3,307.2 431.5,309.7 C430.7,312.2 430.2,314.8 430.5,317.3 C430.8,319.8 433.7,322.5 433.5,324.9 C433.3,327.3 431.5,330.2 429.5,331.6 C427.5,333.0 424.0,334.0 421.5,333.5 C419.0,333.0 416.2,331.1 414.5,328.7 C412.8,326.4 412.0,322.7 411.5,319.2 C411.0,315.7 410.8,311.3 411.5,307.8 C412.2,304.3 413.5,300.6 415.5,298.3 C417.5,295.9 420.8,294.0 423.5,293.5 Z" fill="#000000" filter="url(#b0p6)"/>
<path d="M476.0,303.5 C473.1,303.1 469.5,303.9 467.3,305.3 C465.2,306.6 463.0,309.2 463.0,311.4 C463.0,313.6 466.4,316.1 467.3,318.5 C468.2,320.8 468.8,323.2 468.4,325.5 C468.1,327.9 465.0,330.4 465.2,332.6 C465.3,334.8 467.3,337.4 469.5,338.7 C471.7,340.1 475.5,340.9 478.2,340.5 C480.9,340.1 483.9,338.3 485.8,336.1 C487.6,333.9 488.5,330.5 489.0,327.3 C489.5,324.1 489.7,319.9 489.0,316.7 C488.3,313.5 486.8,310.1 484.7,307.9 C482.5,305.7 478.9,303.9 476.0,303.5 Z" fill="#000000" filter="url(#b0p6)"/>
<ellipse cx="435.0" cy="328.0" rx="2.5" ry="4.0" fill="#000000" filter="url(#b0p6)"/>
<ellipse cx="464.0" cy="331.0" rx="2.5" ry="3.0" fill="#000000" filter="url(#b0p6)"/>
<path d="M435.0,358.0 C435.0,359.3 435.0,364.7 435.0,366.0" fill="none" stroke="#000000" stroke-width="4.5" stroke-linecap="round" stroke-linejoin="round" filter="url(#b0p6)"/>
<path d="M435.5,371.0 C435.5,372.0 435.5,376.0 435.5,377.0" fill="none" stroke="#000000" stroke-width="4.5" stroke-linecap="round" stroke-linejoin="round" filter="url(#b0p6)"/>
<path d="M436.0,383.0 C436.0,384.5 436.0,390.5 436.0,392.0" fill="none" stroke="#000000" stroke-width="4.5" stroke-linecap="round" stroke-linejoin="round" filter="url(#b0p6)"/>
<path d="M436.5,396.0 C436.5,397.5 436.5,403.5 436.5,405.0" fill="none" stroke="#000000" stroke-width="4.5" stroke-linecap="round" stroke-linejoin="round" filter="url(#b0p6)"/>
<path d="M461.5,366.0 C461.5,367.3 461.5,372.7 461.5,374.0" fill="none" stroke="#000000" stroke-width="4.5" stroke-linecap="round" stroke-linejoin="round" filter="url(#b0p6)"/>
<path d="M461.0,385.0 C461.0,386.2 461.0,390.8 461.0,392.0" fill="none" stroke="#000000" stroke-width="4.5" stroke-linecap="round" stroke-linejoin="round" filter="url(#b0p6)"/>
<path d="M460.5,397.0 C460.5,398.7 460.5,405.3 460.5,407.0" fill="none" stroke="#000000" stroke-width="4.5" stroke-linecap="round" stroke-linejoin="round" filter="url(#b0p6)"/>
<ellipse cx="448.0" cy="417.5" rx="15.5" ry="7.0" fill="#000000" filter="url(#b0p6)"/>
<path d="M426.0,412.0 C425.5,416.7 423.8,428.7 423.0,440.0 C422.2,451.3 421.5,468.0 421.0,480.0 C420.5,492.0 420.2,506.7 420.0,512.0" fill="none" stroke="#bebebe" stroke-width="4" stroke-linecap="round" stroke-linejoin="round" filter="url(#b1)"/>
<path d="M474.0,412.0 C474.3,416.7 475.3,428.7 476.0,440.0 C476.7,451.3 477.6,468.0 478.0,480.0 C478.4,492.0 478.4,506.7 478.5,512.0" fill="none" stroke="#bebebe" stroke-width="4" stroke-linecap="round" stroke-linejoin="round" filter="url(#b1)"/>
<ellipse cx="447.5" cy="470.0" rx="10.0" ry="11.0" fill="#d0d0d0" filter="url(#b3)"/>
<path d="M443.0,486.0 L453.0,486.0 L454.0,515.0 L442.0,515.0 Z" fill="#fafafa" filter="url(#b2)"/>
<rect x="340" y="25" width="220" height="495" fill="#000" filter="url(#noise)" opacity="0.2"/></g>
<mask id="c3" maskUnits="userSpaceOnUse" x="0" y="0" width="1349" height="560"><g fill="#fff" filter="url(#b2)"><path d="M358.0,90.0 L380.0,62.0 L400.0,33.5 L437.0,32.5 L470.0,33.5 L500.0,57.0 L530.0,82.0 L539.0,103.0 L537.5,133.0 L527.0,170.0 L518.0,195.0 L478.0,178.0 L491.0,162.0 L506.0,142.0 L512.0,113.0 L507.0,92.0 L486.0,72.0 L470.0,58.0 L455.0,50.0 L438.0,49.0 L419.0,50.0 L401.0,65.0 L390.0,80.0 L381.0,100.0 L382.0,122.0 L394.0,155.0 L412.0,174.0 L422.0,180.0 L369.0,195.0 L362.0,152.0 L357.0,113.0 Z" transform="translate(686.3 0) scale(1.066 1.005) translate(-448.5 0)"/><path d="M367.0,195.0 L395.0,185.0 L422.0,178.0 L472.0,178.0 L500.0,185.0 L518.0,195.0 L513.0,235.0 L511.0,280.0 L514.0,320.0 L517.0,363.0 L521.0,419.0 L519.0,470.0 L517.0,512.0 L381.0,512.0 L378.0,470.0 L375.5,419.0 L378.0,363.0 L383.0,320.0 L384.0,280.0 L374.0,235.0 Z" transform="translate(686.3 0) scale(1.066 1.005) translate(-448.5 0)"/><path d="M420.0,120.0 L470.0,120.0 L471.0,160.0 L474.0,182.0 L418.0,182.0 L422.0,160.0 Z" transform="translate(686.3 0) scale(1.066 1.005) translate(-448.5 0)"/><path d="M444.0,83.5 C450.0,83.5 457.2,84.6 462.0,87.0 C466.8,89.4 470.5,93.5 473.0,98.0 C475.5,102.5 476.4,108.0 477.0,114.0 C477.6,120.0 477.2,128.0 476.5,134.0 C475.8,140.0 473.9,144.7 473.0,150.0 C472.1,155.3 471.0,160.2 471.0,166.0 C471.0,171.8 481.8,181.8 473.0,185.0 C464.2,188.2 426.8,188.2 418.0,185.0 C409.2,181.8 420.3,171.8 420.0,166.0 C419.7,160.2 417.3,155.3 416.0,150.0 C414.7,144.7 412.8,140.0 412.0,134.0 C411.2,128.0 410.5,120.0 411.0,114.0 C411.5,108.0 412.5,102.5 415.0,98.0 C417.5,93.5 421.2,89.4 426.0,87.0 C430.8,84.6 438.0,83.5 444.0,83.5 Z" transform="translate(686.3 0) scale(1.066 1.005) translate(-448.5 0)"/></g></mask><g mask="url(#c3)"><rect x="0" y="0" width="1349" height="560" fill="#f2f2f2"/>
<path d="M645.3,42.2 C640.8,45.9 625.7,55.4 618.6,64.3 C611.5,73.2 605.1,84.4 602.6,95.5 C600.1,106.5 601.4,119.8 603.7,130.6 C606.0,141.5 614.3,155.8 616.5,160.8" fill="none" stroke="#f7f7f7" stroke-width="20" stroke-linecap="round" stroke-linejoin="round" filter="url(#b3)"/>
<path d="M705.0,42.2 C711.0,45.9 731.1,55.4 741.2,64.3 C751.3,73.2 761.5,83.6 765.7,95.5 C770.0,107.4 768.7,123.9 766.8,135.7 C764.8,147.4 756.1,160.8 754.0,165.8" fill="none" stroke="#f7f7f7" stroke-width="20" stroke-linecap="round" stroke-linejoin="round" filter="url(#b3)"/>
<ellipse cx="686.0" cy="240.0" rx="60.0" ry="55.0" fill="#eeeeee" filter="url(#b8)"/>
<path d="M681.5,86.4 C687.2,86.4 693.8,87.3 698.6,89.4 C703.4,91.6 707.7,95.3 710.3,99.5 C712.9,103.7 713.5,108.7 714.0,114.6 C714.5,120.4 714.1,128.6 713.5,134.7 C712.9,140.7 711.2,145.4 710.3,150.7 C709.4,156.1 717.0,164.1 708.2,166.8 C699.3,169.5 666.0,169.5 657.0,166.8 C647.9,164.1 655.0,156.1 653.8,150.7 C652.5,145.4 650.3,140.7 649.5,134.7 C648.7,128.6 648.5,120.4 649.0,114.6 C649.5,108.7 650.1,103.7 652.7,99.5 C655.3,95.3 659.6,91.6 664.4,89.4 C669.2,87.3 675.8,86.4 681.5,86.4 Z" fill="#e9e9e9" filter="url(#b1p5)"/>
<ellipse cx="686.0" cy="162.0" rx="24.0" ry="26.0" fill="#e4e4e4" filter="url(#b4)"/>
<path d="M680.0,86.0 C680.3,89.2 681.5,98.7 682.0,105.0 C682.5,111.3 682.8,120.8 683.0,124.0" fill="none" stroke="#a0a0a0" stroke-width="2.6" stroke-linecap="round" stroke-linejoin="round" filter="url(#b0p6)"/>
<path d="M662.0,132.0 C663.0,131.2 665.3,127.7 668.0,127.0 C670.7,126.3 675.5,127.0 678.0,128.0 C680.5,129.0 681.0,133.0 683.0,133.0 C685.0,133.0 688.8,128.8 690.0,128.0" fill="none" stroke="#afafaf" stroke-width="2.4" stroke-linecap="round" stroke-linejoin="round" filter="url(#b0p6)"/>
<path d="M674.0,140.0 C673.8,143.3 673.0,153.3 673.0,160.0 C673.0,166.7 673.5,173.7 674.0,180.0 C674.5,186.3 675.7,195.0 676.0,198.0" fill="none" stroke="#cdcdcd" stroke-width="3" stroke-linecap="round" stroke-linejoin="round" filter="url(#b1)"/>
<path d="M695.0,140.0 C695.3,143.3 696.3,153.3 697.0,160.0 C697.7,166.7 698.3,173.7 699.0,180.0 C699.7,186.3 700.7,195.0 701.0,198.0" fill="none" stroke="#d0d0d0" stroke-width="3" stroke-linecap="round" stroke-linejoin="round" filter="url(#b1)"/>
<path d="M632.0,42.0 C629.7,45.3 621.5,54.0 618.0,62.0 C614.5,70.0 612.3,81.7 611.0,90.0 C609.7,98.3 609.7,105.3 610.0,112.0 C610.3,118.7 611.3,123.3 613.0,130.0 C614.7,136.7 616.8,145.0 620.0,152.0 C623.2,159.0 627.7,166.0 632.0,172.0 C636.3,178.0 643.7,185.3 646.0,188.0" fill="none" stroke="#d0d0d0" stroke-width="2.6" stroke-linecap="round" stroke-linejoin="round" filter="url(#b1)"/>
<path d="M596.0,80.0 C595.7,85.0 593.7,98.3 594.0,110.0 C594.3,121.7 596.0,138.3 598.0,150.0 C600.0,161.7 604.7,175.0 606.0,180.0" fill="none" stroke="#dedede" stroke-width="2.2" stroke-linecap="round" stroke-linejoin="round" filter="url(#b1p5)"/>
<path d="M726.0,42.0 C729.8,45.0 743.0,52.0 749.0,60.0 C755.0,68.0 759.2,81.3 762.0,90.0 C764.8,98.7 765.7,104.5 766.0,112.0 C766.3,119.5 765.7,127.3 764.0,135.0 C762.3,142.7 759.7,150.8 756.0,158.0 C752.3,165.2 747.0,172.7 742.0,178.0 C737.0,183.3 728.7,188.0 726.0,190.0" fill="none" stroke="#d0d0d0" stroke-width="2.6" stroke-linecap="round" stroke-linejoin="round" filter="url(#b1)"/>
<path d="M772.0,80.0 C773.0,85.0 777.7,98.3 778.0,110.0 C778.3,121.7 776.2,138.3 774.0,150.0 C771.8,161.7 766.5,175.0 765.0,180.0" fill="none" stroke="#dedede" stroke-width="2.2" stroke-linecap="round" stroke-linejoin="round" filter="url(#b1p5)"/>
<ellipse cx="617.5" cy="103.0" rx="1.8" ry="1.8" fill="#5a5a5a" filter="url(#b0p6)"/>
<path d="M632.0,190.0 C633.7,192.2 638.7,201.0 642.0,203.0 C645.3,205.0 648.2,203.2 652.0,202.0 C655.8,200.8 660.7,196.7 665.0,196.0 C669.3,195.3 675.8,197.7 678.0,198.0" fill="none" stroke="#bebebe" stroke-width="3.2" stroke-linecap="round" stroke-linejoin="round" filter="url(#b1)"/>
<path d="M695.0,198.0 C697.2,197.5 703.5,195.3 708.0,195.0 C712.5,194.7 717.0,196.5 722.0,196.0 C727.0,195.5 735.3,192.7 738.0,192.0" fill="none" stroke="#c3c3c3" stroke-width="2.8" stroke-linecap="round" stroke-linejoin="round" filter="url(#b1)"/>
<ellipse cx="687.0" cy="236.0" rx="21.0" ry="34.0" fill="#c8c8c8" filter="url(#b3)"/>
<ellipse cx="698.0" cy="255.0" rx="13.0" ry="15.0" fill="#c8c8c8" filter="url(#b3)"/>
<path d="M692.0,262.0 C691.8,268.3 691.3,287.0 691.0,300.0 C690.7,313.0 690.3,327.0 690.0,340.0 C689.7,353.0 689.2,371.7 689.0,378.0" fill="none" stroke="#cdcdcd" stroke-width="9" stroke-linecap="round" stroke-linejoin="round" filter="url(#b1p5)"/>
<ellipse cx="647.0" cy="297.0" rx="22.0" ry="28.0" fill="#e6e6e6" filter="url(#b5)"/>
<ellipse cx="731.0" cy="306.0" rx="14.0" ry="18.0" fill="#e6e6e6" filter="url(#b4)"/>
<path d="M660.0,298.3 C662.7,297.8 666.0,298.8 668.0,300.2 C670.0,301.6 672.0,304.5 672.0,306.9 C672.0,309.3 668.8,312.0 668.0,314.5 C667.2,317.0 666.7,319.6 667.0,322.1 C667.3,324.6 670.2,327.3 670.0,329.7 C669.8,332.1 668.0,335.0 666.0,336.4 C664.0,337.8 660.5,338.8 658.0,338.3 C655.5,337.8 652.7,335.9 651.0,333.5 C649.3,331.2 648.5,327.5 648.0,324.0 C647.5,320.5 647.3,316.1 648.0,312.6 C648.7,309.1 650.0,305.4 652.0,303.1 C654.0,300.7 657.3,298.8 660.0,298.3 Z" fill="#464646" filter="url(#b2)"/>
<path d="M714.5,307.5 C711.6,307.1 708.0,307.9 705.8,309.2 C703.7,310.5 701.5,313.1 701.5,315.2 C701.5,317.4 704.9,319.8 705.8,322.1 C706.7,324.4 707.3,326.6 706.9,328.9 C706.6,331.2 703.5,333.6 703.7,335.8 C703.8,337.9 705.8,340.5 708.0,341.8 C710.2,343.1 714.0,343.9 716.7,343.5 C719.4,343.1 722.4,341.4 724.2,339.2 C726.1,337.1 727.0,333.8 727.5,330.6 C728.0,327.5 728.2,323.5 727.5,320.4 C726.8,317.2 725.3,313.9 723.2,311.8 C721.0,309.6 717.4,307.9 714.5,307.5 Z" fill="#464646" filter="url(#b2)"/>
<path d="M660.5,300.5 C662.6,300.1 665.2,300.9 666.8,302.1 C668.4,303.3 670.0,305.8 670.0,307.8 C670.0,309.8 667.5,312.1 666.8,314.3 C666.2,316.4 665.8,318.6 666.0,320.7 C666.3,322.9 668.5,325.2 668.4,327.2 C668.3,329.2 666.8,331.7 665.2,332.9 C663.7,334.1 660.9,334.9 658.9,334.5 C656.9,334.1 654.7,332.5 653.4,330.5 C652.1,328.4 651.4,325.3 651.0,322.4 C650.6,319.4 650.5,315.6 651.0,312.6 C651.5,309.7 652.6,306.6 654.2,304.5 C655.8,302.5 658.4,300.9 660.5,300.5 Z" fill="#000000" filter="url(#b1)"/>
<path d="M714.0,309.5 C711.8,309.1 709.0,309.9 707.3,311.0 C705.7,312.1 704.0,314.3 704.0,316.1 C704.0,318.0 706.6,320.1 707.3,322.0 C708.0,324.0 708.4,326.0 708.2,328.0 C707.9,329.9 705.5,332.0 705.7,333.9 C705.8,335.7 707.3,337.9 709.0,339.0 C710.7,340.1 713.6,340.9 715.7,340.5 C717.8,340.1 720.1,338.7 721.5,336.8 C722.9,335.0 723.6,332.1 724.0,329.4 C724.4,326.7 724.6,323.3 724.0,320.6 C723.4,317.9 722.3,315.0 720.7,313.2 C719.0,311.3 716.2,309.9 714.0,309.5 Z" fill="#000000" filter="url(#b1)"/>
<ellipse cx="664.0" cy="318.0" rx="2.0" ry="3.0" fill="#464646" filter="url(#b1)"/>
<ellipse cx="716.0" cy="320.0" rx="2.5" ry="2.0" fill="#464646" filter="url(#b1)"/>
<path d="M666.0,325.0 C666.6,327.5 668.9,337.5 669.5,340.0" fill="none" stroke="#000000" stroke-width="4" stroke-linecap="round" stroke-linejoin="round" filter="url(#b0p6)"/>
<path d="M704.5,331.0 C704.4,333.0 704.1,341.0 704.0,343.0" fill="none" stroke="#000000" stroke-width="4" stroke-linecap="round" stroke-linejoin="round" filter="url(#b0p6)"/>
<path d="M704.0,343.0 C703.5,346.7 701.5,361.3 701.0,365.0" fill="none" stroke="#787878" stroke-width="2" stroke-linecap="round" stroke-linejoin="round" filter="url(#b0p6)"/>
<path d="M672.0,364.0 C672.1,366.0 672.4,374.0 672.5,376.0" fill="none" stroke="#000000" stroke-width="4.5" stroke-linecap="round" stroke-linejoin="round" filter="url(#b0p6)"/>
<path d="M673.5,397.0 C673.6,399.3 673.9,408.7 674.0,411.0" fill="none" stroke="#000000" stroke-width="4.5" stroke-linecap="round" stroke-linejoin="round" filter="url(#b0p6)"/>
<path d="M699.8,370.0 C699.9,371.5 700.2,377.5 700.3,379.0" fill="none" stroke="#000000" stroke-width="4.5" stroke-linecap="round" stroke-linejoin="round" filter="url(#b0p6)"/>
<path d="M699.8,394.0 C699.9,395.8 700.2,403.2 700.3,405.0" fill="none" stroke="#000000" stroke-width="4.5" stroke-linecap="round" stroke-linejoin="round" filter="url(#b0p6)"/>
<path d="M702.0,407.0 C702.1,408.5 702.4,414.5 702.5,416.0" fill="none" stroke="#000000" stroke-width="4.5" stroke-linecap="round" stroke-linejoin="round" filter="url(#b0p6)"/>
<ellipse cx="688.0" cy="405.0" rx="12.0" ry="11.0" fill="#e1e1e1" filter="url(#b3)"/>
<path d="M671,418 C670,412 676,412 688,414 C700,416 706,416 706,421 C706,428 698,430.5 688,430.5 C676,430.5 670,426 671,418 Z" fill="#000" filter="url(#b0p6)"/>
<path d="M664.0,416.0 C663.3,421.7 661.2,439.3 660.0,450.0 C658.8,460.7 657.7,469.5 657.0,480.0 C656.3,490.5 656.2,507.5 656.0,513.0" fill="none" stroke="#d4d4d4" stroke-width="4" stroke-linecap="round" stroke-linejoin="round" filter="url(#b1)"/>
<path d="M712.0,416.0 C712.5,421.7 714.2,439.3 715.0,450.0 C715.8,460.7 716.5,469.5 717.0,480.0 C717.5,490.5 717.8,507.5 718.0,513.0" fill="none" stroke="#d4d4d4" stroke-width="4" stroke-linecap="round" stroke-linejoin="round" filter="url(#b1)"/>
<ellipse cx="687.0" cy="458.0" rx="11.0" ry="20.0" fill="#dedede" filter="url(#b3)"/>
<ellipse cx="688.5" cy="478.0" rx="11.0" ry="12.0" fill="#d6d6d6" filter="url(#b3)"/>
<path d="M683.0,485.0 L694.0,485.0 L695.0,515.0 L682.0,515.0 Z" fill="#fafafa" filter="url(#b2)"/>
<rect x="570" y="20" width="230" height="500" fill="#000" filter="url(#noise)" opacity="0.07"/></g>
<mask id="c4" maskUnits="userSpaceOnUse" x="0" y="0" width="1349" height="560"><g fill="#fff" filter="url(#b2)"><path d="M358.0,90.0 L380.0,62.0 L400.0,33.5 L437.0,32.5 L470.0,33.5 L500.0,57.0 L530.0,82.0 L539.0,103.0 L537.5,133.0 L527.0,170.0 L518.0,195.0 L478.0,178.0 L491.0,162.0 L506.0,142.0 L512.0,113.0 L507.0,92.0 L486.0,72.0 L470.0,58.0 L455.0,50.0 L438.0,49.0 L419.0,50.0 L401.0,65.0 L390.0,80.0 L381.0,100.0 L382.0,122.0 L394.0,155.0 L412.0,174.0 L422.0,180.0 L369.0,195.0 L362.0,152.0 L357.0,113.0 Z" transform="translate(929.2 1.5) scale(1.02 0.99) translate(-448.5 0)"/><path d="M367.0,195.0 L395.0,185.0 L422.0,178.0 L472.0,178.0 L500.0,185.0 L518.0,195.0 L513.0,235.0 L511.0,280.0 L514.0,320.0 L517.0,363.0 L521.0,419.0 L519.0,470.0 L517.0,512.0 L381.0,512.0 L378.0,470.0 L375.5,419.0 L378.0,363.0 L383.0,320.0 L384.0,280.0 L374.0,235.0 Z" transform="translate(929.2 1.5) scale(1.02 0.99) translate(-448.5 0)"/><path d="M420.0,120.0 L470.0,120.0 L471.0,160.0 L474.0,182.0 L418.0,182.0 L422.0,160.0 Z" transform="translate(929.2 1.5) scale(1.02 0.99) translate(-448.5 0)"/><path d="M444.0,83.5 C450.0,83.5 457.2,84.6 462.0,87.0 C466.8,89.4 470.5,93.5 473.0,98.0 C475.5,102.5 476.4,108.0 477.0,114.0 C477.6,120.0 477.2,128.0 476.5,134.0 C475.8,140.0 473.9,144.7 473.0,150.0 C472.1,155.3 471.0,160.2 471.0,166.0 C471.0,171.8 481.8,181.8 473.0,185.0 C464.2,188.2 426.8,188.2 418.0,185.0 C409.2,181.8 420.3,171.8 420.0,166.0 C419.7,160.2 417.3,155.3 416.0,150.0 C414.7,144.7 412.8,140.0 412.0,134.0 C411.2,128.0 410.5,120.0 411.0,114.0 C411.5,108.0 412.5,102.5 415.0,98.0 C417.5,93.5 421.2,89.4 426.0,87.0 C430.8,84.6 438.0,83.5 444.0,83.5 Z" transform="translate(929.2 1.5) scale(1.02 0.99) translate(-448.5 0)"/></g></mask><g mask="url(#c4)"><rect x="0" y="0" width="1349" height="560" fill="#f3f3f3"/>
<path d="M889.9,43.1 C885.7,46.7 871.2,56.1 864.4,64.9 C857.6,73.6 851.5,84.7 849.1,95.5 C846.8,106.4 847.9,119.5 850.2,130.2 C852.4,140.9 860.4,154.9 862.4,159.9" fill="none" stroke="#f8f8f8" stroke-width="20" stroke-linecap="round" stroke-linejoin="round" filter="url(#b3)"/>
<path d="M947.1,43.1 C952.8,46.7 972.0,56.1 981.7,64.9 C991.4,73.6 1001.1,83.8 1005.2,95.5 C1009.3,107.3 1008.1,123.6 1006.2,135.2 C1004.3,146.7 996.0,159.9 994.0,164.8" fill="none" stroke="#f8f8f8" stroke-width="20" stroke-linecap="round" stroke-linejoin="round" filter="url(#b3)"/>
<ellipse cx="929.0" cy="240.0" rx="58.0" ry="55.0" fill="#efefef" filter="url(#b8)"/>
<path d="M924.6,86.6 C930.0,86.6 936.3,87.5 940.9,89.6 C945.5,91.8 949.7,95.4 952.2,99.5 C954.6,103.6 955.2,108.6 955.7,114.4 C956.2,120.1 955.8,128.2 955.2,134.2 C954.6,140.1 953.0,144.7 952.2,150.0 C951.3,155.3 958.6,163.2 950.1,165.8 C941.6,168.5 909.8,168.5 901.2,165.8 C892.5,163.2 899.3,155.3 898.1,150.0 C896.9,144.7 894.8,140.1 894.0,134.2 C893.2,128.2 893.0,120.1 893.5,114.4 C894.0,108.6 894.6,103.6 897.1,99.5 C899.5,95.4 903.7,91.8 908.3,89.6 C912.9,87.5 919.2,86.6 924.6,86.6 Z" fill="#eaeaea" filter="url(#b1p5)"/>
<ellipse cx="927.0" cy="162.0" rx="23.0" ry="26.0" fill="#e5e5e5" filter="url(#b4)"/>
<path d="M923.0,90.0 C923.3,93.3 924.5,103.7 925.0,110.0 C925.5,116.3 925.8,125.0 926.0,128.0" fill="none" stroke="#c3c3c3" stroke-width="2.4" stroke-linecap="round" stroke-linejoin="round" filter="url(#b1)"/>
<path d="M879.0,42.0 C876.8,45.3 869.2,54.0 866.0,62.0 C862.8,70.0 861.0,81.7 860.0,90.0 C859.0,98.3 859.5,105.3 860.0,112.0 C860.5,118.7 861.5,123.3 863.0,130.0 C864.5,136.7 866.2,145.0 869.0,152.0 C871.8,159.0 876.2,166.0 880.0,172.0 C883.8,178.0 890.0,185.3 892.0,188.0" fill="none" stroke="#d4d4d4" stroke-width="2.6" stroke-linecap="round" stroke-linejoin="round" filter="url(#b1)"/>
<path d="M966.0,42.0 C969.8,45.0 983.0,52.0 989.0,60.0 C995.0,68.0 999.3,81.3 1002.0,90.0 C1004.7,98.7 1004.8,104.5 1005.0,112.0 C1005.2,119.5 1004.5,127.3 1003.0,135.0 C1001.5,142.7 999.2,150.8 996.0,158.0 C992.8,165.2 988.3,172.7 984.0,178.0 C979.7,183.3 972.3,188.0 970.0,190.0" fill="none" stroke="#d4d4d4" stroke-width="2.6" stroke-linecap="round" stroke-linejoin="round" filter="url(#b1)"/>
<path d="M843.0,80.0 C842.7,85.0 840.7,98.3 841.0,110.0 C841.3,121.7 843.0,138.3 845.0,150.0 C847.0,161.7 851.7,175.0 853.0,180.0" fill="none" stroke="#e1e1e1" stroke-width="2.2" stroke-linecap="round" stroke-linejoin="round" filter="url(#b1p5)"/>
<path d="M1013.0,80.0 C1013.7,85.0 1017.0,98.3 1017.0,110.0 C1017.0,121.7 1015.0,138.3 1013.0,150.0 C1011.0,161.7 1006.3,175.0 1005.0,180.0" fill="none" stroke="#e1e1e1" stroke-width="2.2" stroke-linecap="round" stroke-linejoin="round" filter="url(#b1p5)"/>
<path d="M878.0,190.0 C880.0,191.8 886.3,199.3 890.0,201.0 C893.7,202.7 896.3,201.0 900.0,200.0 C903.7,199.0 908.3,195.5 912.0,195.0 C915.7,194.5 920.3,196.7 922.0,197.0" fill="none" stroke="#c8c8c8" stroke-width="3.2" stroke-linecap="round" stroke-linejoin="round" filter="url(#b1)"/>
<path d="M936.0,197.0 C938.3,196.5 945.3,194.3 950.0,194.0 C954.7,193.7 959.3,195.5 964.0,195.0 C968.7,194.5 975.7,191.7 978.0,191.0" fill="none" stroke="#cbcbcb" stroke-width="2.8" stroke-linecap="round" stroke-linejoin="round" filter="url(#b1)"/>
<ellipse cx="931.0" cy="238.0" rx="20.0" ry="34.0" fill="#cfcfcf" filter="url(#b3)"/>
<ellipse cx="941.0" cy="256.0" rx="13.0" ry="15.0" fill="#d0d0d0" filter="url(#b3)"/>
<path d="M939.0,262.0 C938.8,268.3 938.3,287.0 938.0,300.0 C937.7,313.0 937.3,328.0 937.0,340.0 C936.7,352.0 936.2,366.7 936.0,372.0" fill="none" stroke="#d2d2d2" stroke-width="9" stroke-linecap="round" stroke-linejoin="round" filter="url(#b1p5)"/>
<ellipse cx="890.0" cy="295.0" rx="22.0" ry="28.0" fill="#e9e9e9" filter="url(#b5)"/>
<ellipse cx="972.0" cy="304.0" rx="14.0" ry="18.0" fill="#e8e8e8" filter="url(#b4)"/>
<path d="M909.0,294.0 C911.6,293.5 914.8,294.5 916.7,296.0 C918.6,297.4 920.5,300.3 920.5,302.8 C920.5,305.2 917.5,308.0 916.7,310.6 C915.9,313.2 915.4,315.8 915.7,318.4 C916.0,321.0 918.7,323.8 918.6,326.2 C918.4,328.7 916.7,331.6 914.8,333.0 C912.8,334.5 909.5,335.5 907.1,335.0 C904.7,334.5 902.0,332.6 900.4,330.1 C898.8,327.7 898.0,323.9 897.5,320.4 C897.0,316.8 896.9,312.2 897.5,308.6 C898.1,305.1 899.4,301.3 901.3,298.9 C903.2,296.4 906.4,294.5 909.0,294.0 Z" fill="#7d7d7d" filter="url(#b2)"/>
<path d="M963.0,304.0 C960.2,303.6 956.8,304.4 954.7,305.7 C952.6,306.9 950.5,309.4 950.5,311.5 C950.5,313.6 953.8,315.9 954.7,318.2 C955.5,320.4 956.1,322.6 955.7,324.8 C955.4,327.1 952.4,329.4 952.6,331.5 C952.8,333.6 954.7,336.1 956.8,337.3 C958.8,338.6 962.5,339.4 965.1,339.0 C967.7,338.6 970.6,336.9 972.4,334.8 C974.1,332.8 975.0,329.6 975.5,326.5 C976.0,323.4 976.2,319.6 975.5,316.5 C974.8,313.4 973.4,310.2 971.3,308.2 C969.2,306.1 965.8,304.4 963.0,304.0 Z" fill="#7d7d7d" filter="url(#b2)"/>
<ellipse cx="910.0" cy="304.5" rx="4.4" ry="4.4" fill="#000000" filter="url(#b0p6)"/>
<ellipse cx="906.5" cy="306.0" rx="3.6" ry="3.6" fill="#000000" filter="url(#b0p6)"/>
<ellipse cx="905.0" cy="312.0" rx="3.8" ry="3.8" fill="#000000" filter="url(#b0p6)"/>
<ellipse cx="906.5" cy="318.5" rx="3.5" ry="3.5" fill="#000000" filter="url(#b0p6)"/>
<ellipse cx="906.5" cy="325.0" rx="4.0" ry="4.0" fill="#000000" filter="url(#b0p6)"/>
<ellipse cx="958.5" cy="312.0" rx="4.2" ry="4.2" fill="#000000" filter="url(#b0p6)"/>
<ellipse cx="962.0" cy="314.0" rx="3.0" ry="3.0" fill="#000000" filter="url(#b0p6)"/>
<ellipse cx="967.0" cy="320.5" rx="3.9" ry="3.9" fill="#000000" filter="url(#b0p6)"/>
<ellipse cx="962.0" cy="330.0" rx="4.1" ry="4.1" fill="#000000" filter="url(#b0p6)"/>
<path d="M914.5,322.0 C915.1,324.0 917.7,332.0 918.3,334.0" fill="none" stroke="#141414" stroke-width="3.5" stroke-linecap="round" stroke-linejoin="round" filter="url(#b0p6)"/>
<path d="M952.8,327.0 C952.8,328.8 952.5,336.2 952.5,338.0" fill="none" stroke="#141414" stroke-width="4" stroke-linecap="round" stroke-linejoin="round" filter="url(#b0p6)"/>
<path d="M919.8,359.0 C919.8,361.1 920.0,369.4 920.0,371.5" fill="none" stroke="#000000" stroke-width="5" stroke-linecap="round" stroke-linejoin="round" filter="url(#b0p6)"/>
<path d="M948.3,369.0 C948.3,369.9 948.5,373.6 948.5,374.5" fill="none" stroke="#000000" stroke-width="4.5" stroke-linecap="round" stroke-linejoin="round" filter="url(#b0p6)"/>
<path d="M918,414 C918,407 925,406 935,407.5 C945,409 953,410 953,417 C953,424 946,425.5 935,425 C924,424.5 918,421 918,414 Z" fill="#000" filter="url(#b0p6)"/>
<path d="M908.0,412.0 C907.3,418.3 905.2,438.7 904.0,450.0 C902.8,461.3 901.7,470.0 901.0,480.0 C900.3,490.0 900.2,505.0 900.0,510.0" fill="none" stroke="#d7d7d7" stroke-width="4" stroke-linecap="round" stroke-linejoin="round" filter="url(#b1)"/>
<path d="M958.0,412.0 C958.7,418.3 961.0,438.7 962.0,450.0 C963.0,461.3 963.5,470.0 964.0,480.0 C964.5,490.0 964.8,505.0 965.0,510.0" fill="none" stroke="#d7d7d7" stroke-width="4" stroke-linecap="round" stroke-linejoin="round" filter="url(#b1)"/>
<ellipse cx="935.0" cy="455.0" rx="10.0" ry="20.0" fill="#e0e0e0" filter="url(#b3)"/>
<ellipse cx="936.0" cy="474.0" rx="10.0" ry="12.0" fill="#d8d8d8" filter="url(#b3)"/>
<path d="M929.0,484.0 L941.0,484.0 L942.0,515.0 L928.0,515.0 Z" fill="#fafafa" filter="url(#b2)"/>
<rect x="820" y="20" width="230" height="500" fill="#000" filter="url(#noise)" opacity="0.06"/></g>
<mask id="c5" maskUnits="userSpaceOnUse" x="0" y="0" width="1349" height="560"><g fill="#fff" filter="url(#b3)"><path d="M1068.5,76.8 L1118.0,40.8 L1165.0,39.5 L1212.7,40.8 L1278.0,81.3 L1280.4,97.0 L1271.3,160.0 L1262.0,192.0 L1208.0,165.0 L1221.8,151.2 L1235.3,126.4 L1246.5,92.6 L1212.7,65.6 L1181.2,52.0 L1163.0,50.0 L1145.0,49.8 L1111.3,76.8 L1093.3,94.9 L1100.0,115.0 L1115.8,142.2 L1143.0,165.0 L1085.0,192.0 L1075.3,160.0 L1066.3,97.0 Z"/><path d="M1085.0,192.0 L1142.0,162.0 L1208.0,162.0 L1262.0,192.0 L1253.3,216.5 L1246.5,265.0 L1251.0,320.0 L1255.0,382.0 L1253.0,440.0 L1250.0,508.5 L1100.0,508.5 L1100.0,440.0 L1104.0,382.0 L1101.0,320.0 L1109.0,265.0 L1095.6,216.5 Z"/><path d="M1176.0,72.0 C1182.0,72.0 1190.7,73.3 1196.0,76.0 C1201.3,78.7 1205.3,83.2 1208.0,88.0 C1210.7,92.8 1211.2,98.6 1212.0,105.0 C1212.8,111.4 1213.4,119.7 1212.7,126.4 C1212.0,133.1 1209.1,137.7 1208.0,145.0 C1206.9,152.3 1216.5,165.8 1206.0,170.0 C1195.5,174.2 1155.6,174.2 1145.0,170.0 C1134.4,165.8 1143.2,152.5 1142.5,145.0 C1141.8,137.5 1141.2,132.5 1141.0,125.0 C1140.8,117.5 1139.8,106.7 1141.0,100.0 C1142.2,93.3 1144.8,89.0 1148.0,85.0 C1151.2,81.0 1155.3,78.2 1160.0,76.0 C1164.7,73.8 1170.0,72.0 1176.0,72.0 Z"/></g></mask><g mask="url(#c5)"><rect x="0" y="0" width="1349" height="560" fill="#fafafa"/>
<ellipse cx="1176.0" cy="112.0" rx="32.0" ry="34.0" fill="#f7f7f7" filter="url(#b4)"/>
<ellipse cx="1178.0" cy="240.0" rx="20.0" ry="33.0" fill="#f6f6f6" filter="url(#b5)"/>
<path d="M1154.0,285.5 C1156.8,285.0 1160.2,286.0 1162.3,287.4 C1164.4,288.8 1166.5,291.5 1166.5,293.9 C1166.5,296.2 1163.2,298.8 1162.3,301.3 C1161.5,303.8 1160.9,306.2 1161.3,308.7 C1161.6,311.2 1164.6,313.8 1164.4,316.1 C1164.2,318.5 1162.3,321.2 1160.2,322.6 C1158.2,324.0 1154.5,325.0 1151.9,324.5 C1149.3,324.0 1146.4,322.2 1144.6,319.9 C1142.9,317.5 1142.0,314.0 1141.5,310.6 C1141.0,307.2 1140.8,302.8 1141.5,299.4 C1142.2,296.0 1143.6,292.5 1145.7,290.1 C1147.8,287.8 1151.2,286.0 1154.0,285.5 Z" fill="#e5e5e5" filter="url(#b1p5)"/>
<path d="M1209.5,293.5 C1206.5,293.1 1202.8,293.9 1200.5,295.2 C1198.2,296.5 1196.0,299.1 1196.0,301.2 C1196.0,303.4 1199.6,305.8 1200.5,308.1 C1201.4,310.4 1202.0,312.6 1201.6,314.9 C1201.2,317.2 1198.1,319.6 1198.2,321.8 C1198.4,323.9 1200.5,326.5 1202.8,327.8 C1205.0,329.1 1208.9,329.9 1211.8,329.5 C1214.6,329.1 1217.8,327.4 1219.6,325.2 C1221.5,323.1 1222.4,319.8 1223.0,316.6 C1223.6,313.5 1223.8,309.5 1223.0,306.4 C1222.2,303.2 1220.8,299.9 1218.5,297.8 C1216.2,295.6 1212.5,293.9 1209.5,293.5 Z" fill="#e8e8e8" filter="url(#b1p5)"/>
<path d="M1154.0,296.0 C1154.7,297.7 1156.4,301.5 1158.0,306.0 C1159.6,310.5 1162.6,320.2 1163.5,323.0" fill="none" stroke="#6e6e6e" stroke-width="2.4" stroke-linecap="round" stroke-linejoin="round" filter="url(#b0p6)"/>
<ellipse cx="1154.0" cy="297.0" rx="1.8" ry="2.5" fill="#3c3c3c" filter="url(#b0p6)"/>
<path d="M1199.4,314.6 C1198.8,317.0 1196.6,326.6 1196.0,329.0" fill="none" stroke="#aaaaaa" stroke-width="2" stroke-linecap="round" stroke-linejoin="round" filter="url(#b0p6)"/>
<path d="M1165.5,352.0 C1165.5,354.3 1165.8,363.7 1165.8,366.0" fill="none" stroke="#afafaf" stroke-width="2.5" stroke-linecap="round" stroke-linejoin="round" filter="url(#b0p6)"/>
<path d="M1196.0,354.0 C1196.0,355.8 1196.2,362.8 1196.3,364.5" fill="none" stroke="#b9b9b9" stroke-width="2.5" stroke-linecap="round" stroke-linejoin="round" filter="url(#b0p6)"/>
<path d="M1165,401 C1165,394 1172,393 1182,393.5 C1193,394 1199,396 1199,403 C1199,410 1192,412.5 1182,412.5 C1171,412.5 1165,409 1165,401 Z" fill="#000" filter="url(#b0p6)"/>
<ellipse cx="1180.4" cy="462.0" rx="10.0" ry="12.0" fill="#ececec" filter="url(#b3)"/>
<path d="M1177.0,474.0 L1187.0,474.0 L1188.0,515.0 L1176.0,515.0 Z" fill="#fdfdfd" filter="url(#b2)"/>
</g>
<defs><linearGradient id="cbar" x1="0" y1="0" x2="0" y2="1"><stop offset="0" stop-color="#1a1a1a"/><stop offset="0.17" stop-color="#535353"/><stop offset="0.338" stop-color="#8c8c8c"/><stop offset="0.549" stop-color="#c0c0c0"/><stop offset="0.69" stop-color="#e0e0e0"/><stop offset="0.9" stop-color="#f5f5f5"/><stop offset="1" stop-color="#fbfbfb"/></linearGradient></defs>
<rect x="50" y="190.6" width="31.4" height="180" fill="url(#cbar)"/>
<text x="66.5" y="185" font-size="22.5" text-anchor="middle" font-family='"Liberation Sans", sans-serif'>6</text>
<text x="66" y="400.5" font-size="22.5" text-anchor="middle" font-family='"Liberation Sans", sans-serif'>0</text>
<text transform="translate(33,305) rotate(-90)" font-size="24" font-family='"Liberation Sans", sans-serif'>SUV</text>
<text x="211.5" y="544" font-size="31" text-anchor="middle" stroke="#000" stroke-width="0.3" font-family='"Liberation Sans", sans-serif'>5 min</text>
<text x="442.8" y="544" font-size="31" text-anchor="middle" stroke="#000" stroke-width="0.3" font-family='"Liberation Sans", sans-serif'>10 min</text>
<text x="685.7" y="544" font-size="31" text-anchor="middle" stroke="#000" stroke-width="0.3" font-family='"Liberation Sans", sans-serif'>20 min</text>
<text x="923.3" y="544" font-size="31" text-anchor="middle" stroke="#000" stroke-width="0.3" font-family='"Liberation Sans", sans-serif'>40 min</text>
<text x="1169.6" y="544" font-size="31" text-anchor="middle" stroke="#000" stroke-width="0.3" font-family='"Liberation Sans", sans-serif'>90 min</text>
<text x="-1" y="25.5" font-size="45" font-weight="bold" font-family='"Liberation Sans", sans-serif'>a</text>
<text x="2" y="621" font-size="45" font-weight="bold" font-family='"Liberation Sans", sans-serif'>b</text>
<text x="646" y="621" font-size="45" font-weight="bold" font-family='"Liberation Sans", sans-serif'>c</text>
</svg></body></html>
